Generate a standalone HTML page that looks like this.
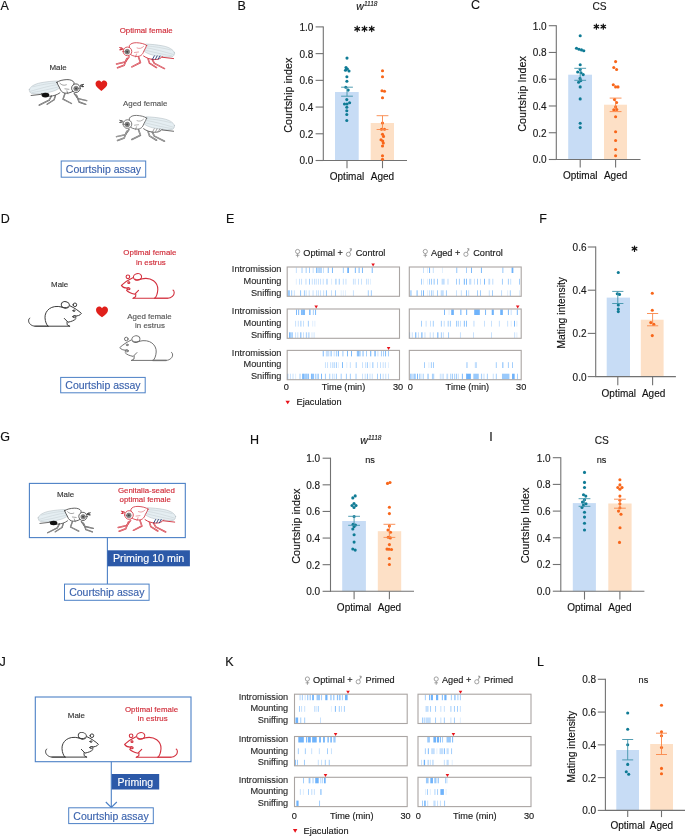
<!DOCTYPE html>
<html><head><meta charset="utf-8"><title>Figure</title>
<style>html,body{margin:0;padding:0;background:#fff;}body{width:685px;height:836px;overflow:hidden;font-family:"Liberation Sans", sans-serif;}svg{display:block;will-change:transform;}</style>
</head><body>
<svg width="685" height="836" viewBox="0 0 685 836" font-family='"Liberation Sans", sans-serif'>
<rect width="685" height="836" fill="#fff"/>
<text x="0.6" y="9.6" font-size="12.5" text-anchor="start" fill="#111" stroke="#111" stroke-width="0.14">A</text>
<text x="237.6" y="9.6" font-size="12.5" text-anchor="start" fill="#111" stroke="#111" stroke-width="0.14">B</text>
<text x="471" y="9.4" font-size="12.5" text-anchor="start" fill="#111" stroke="#111" stroke-width="0.14">C</text>
<text x="0.8" y="222.6" font-size="12.5" text-anchor="start" fill="#111" stroke="#111" stroke-width="0.14">D</text>
<text x="226" y="222.7" font-size="12.5" text-anchor="start" fill="#111" stroke="#111" stroke-width="0.14">E</text>
<text x="539.2" y="222.5" font-size="12.5" text-anchor="start" fill="#111" stroke="#111" stroke-width="0.14">F</text>
<text x="0.2" y="441.3" font-size="12.5" text-anchor="start" fill="#111" stroke="#111" stroke-width="0.14">G</text>
<text x="249.9" y="443.6" font-size="12.5" text-anchor="start" fill="#111" stroke="#111" stroke-width="0.14">H</text>
<text x="489.2" y="440.8" font-size="12.5" text-anchor="start" fill="#111" stroke="#111" stroke-width="0.14">I</text>
<text x="-0.6" y="666" font-size="12.5" text-anchor="start" fill="#111" stroke="#111" stroke-width="0.14">J</text>
<text x="225.2" y="666.2" font-size="12.5" text-anchor="start" fill="#111" stroke="#111" stroke-width="0.14">K</text>
<text x="537" y="666.2" font-size="12.5" text-anchor="start" fill="#111" stroke="#111" stroke-width="0.14">L</text>
<text x="58" y="70.2" font-size="7.95" text-anchor="middle" fill="#333" stroke="#333" stroke-width="0.14">Male</text>
<text x="146.2" y="33.2" font-size="7.9" text-anchor="middle" fill="#d02a37" stroke="#d02a37" stroke-width="0.14">Optimal female</text>
<text x="145.2" y="105.9" font-size="7.9" text-anchor="middle" fill="#555" stroke="#555" stroke-width="0.14">Aged female</text>
<g transform="translate(28.9 78.8) scale(1 1)" fill="none" stroke-linejoin="round" stroke-linecap="round">
<path d="M22.5 17.2L20.3 21.3L10.3 26.4" stroke="#4a4a4a" stroke-width="1.35"/>
<path d="M22.5 17.2L20.3 21.3L10.3 26.4" stroke="#fff" stroke-width="0.4"/>
<path d="M26.5 17L25.2 21L18.2 25.4" stroke="#4a4a4a" stroke-width="1.35"/>
<path d="M26.5 17L25.2 21L18.2 25.4" stroke="#fff" stroke-width="0.4"/>
<path d="M36 15L34.1 20.4L42.6 24.7" stroke="#4a4a4a" stroke-width="1.35"/>
<path d="M36 15L34.1 20.4L42.6 24.7" stroke="#fff" stroke-width="0.4"/>
<path d="M45.4 14.8L49.2 19.9L57.8 21.8" stroke="#4a4a4a" stroke-width="1.35"/>
<path d="M45.4 14.8L49.2 19.9L57.8 21.8" stroke="#fff" stroke-width="0.4"/>
<path d="M47.6 16.4L50.2 23.2L56.8 25.6" stroke="#4a4a4a" stroke-width="1.35"/>
<path d="M47.6 16.4L50.2 23.2L56.8 25.6" stroke="#fff" stroke-width="0.4"/>
<path d="M0.4 10.8C1.5 7.5 6 5.2 11.7 4C17 3 24 2.2 29 2.2L31 9C28 11 26 12 22 13C16 14.5 8 15.5 3 14.8C1.2 14.4 0.2 12.5 0.4 10.8Z" fill="#e5eef2" stroke="#b2bcc1" stroke-width="0.55"/>
<path d="M1.5 12.5C10 10 20 7 30 5.5M4 8C12 6 20 4.5 28 4M3 13.8C12 12.5 22 10 30 8" stroke="#c0c9cd" stroke-width="0.45"/>
<path d="M12.5 14.5C15 18.8 25 18.5 31 14" stroke="#333" stroke-width="0.75"/>
<path d="M2.2 16.7L12.6 15.5" stroke="#333" stroke-width="0.75"/>
<ellipse cx="16.5" cy="16.3" rx="3.9" ry="2.3" fill="#111" stroke="none"/>
<path d="M28 3.5C30 1.8 34 1 38 0.8C41.5 0.7 44 1.8 45 3.5L45.5 11C44 13 41 14.4 37 14.4C34 14.2 32 12.8 30.7 9C29.5 7 28.5 5 28 3.5Z" fill="#fff" stroke="#333" stroke-width="0.8"/>
<path d="M31 4.5C33 6.5 35 7 37.5 6M36 10L40 10.5M38 12L39 15" stroke="#333" stroke-width="0.45"/>
<circle cx="47" cy="9.4" r="4.3" fill="#fff" stroke="#333" stroke-width="0.8"/>
<circle cx="47.2" cy="9.8" r="2.4" fill="#8a8a8a" stroke="#555" stroke-width="0.5"/>
<circle cx="47.2" cy="9.8" r="1.1" fill="#444" stroke="none"/>
<path d="M51.5 6.5L54.7 5.6M51.5 7.3L54.7 7.8M53.2 5.8L53.5 8" stroke="#333" stroke-width="0.9"/>
</g>
<g transform="translate(174.9 41.9) scale(-1.01 1.01)" fill="none" stroke-linejoin="round" stroke-linecap="round">
<path d="M22.5 17.2L20.3 21.3L10.3 26.4" stroke="#d02a37" stroke-width="1.5"/>
<path d="M22.5 17.2L20.3 21.3L10.3 26.4" stroke="#fff" stroke-width="0.4"/>
<path d="M26.5 17L25.2 21L18.2 25.4" stroke="#d02a37" stroke-width="1.5"/>
<path d="M26.5 17L25.2 21L18.2 25.4" stroke="#fff" stroke-width="0.4"/>
<path d="M36 15L34.1 20.4L42.6 24.7" stroke="#d02a37" stroke-width="1.5"/>
<path d="M36 15L34.1 20.4L42.6 24.7" stroke="#fff" stroke-width="0.4"/>
<path d="M45.4 14.8L49.2 19.9L57.8 21.8" stroke="#d02a37" stroke-width="1.5"/>
<path d="M45.4 14.8L49.2 19.9L57.8 21.8" stroke="#fff" stroke-width="0.4"/>
<path d="M47.6 16.4L50.2 23.2L56.8 25.6" stroke="#d02a37" stroke-width="1.5"/>
<path d="M47.6 16.4L50.2 23.2L56.8 25.6" stroke="#fff" stroke-width="0.4"/>
<path d="M0.4 10.8C1.5 7.5 6 5.2 11.7 4C17 3 24 2.2 29 2.2L31 9C28 11 26 12 22 13C16 14.5 8 15.5 3 14.8C1.2 14.4 0.2 12.5 0.4 10.8Z" fill="#e5eef2" stroke="#b2bcc1" stroke-width="0.55"/>
<path d="M1.5 12.5C10 10 20 7 30 5.5M4 8C12 6 20 4.5 28 4M3 13.8C12 12.5 22 10 30 8" stroke="#c0c9cd" stroke-width="0.45"/>
<path d="M12.5 14.5C15 18.8 25 18.5 31 14" stroke="#d02a37" stroke-width="0.9"/>
<path d="M1.3 16.5L12.6 15.2" stroke="#d02a37" stroke-width="0.9"/>
<path d="M14.8 13.9L16.6 17.3" stroke="#2b3f7a" stroke-width="0.9"/>
<path d="M17.6 13.9L19.4 17.3" stroke="#2b3f7a" stroke-width="0.9"/>
<path d="M20.4 13.9L22.2 17.3" stroke="#2b3f7a" stroke-width="0.9"/>
<path d="M28 3.5C30 1.8 34 1 38 0.8C41.5 0.7 44 1.8 45 3.5L45.5 11C44 13 41 14.4 37 14.4C34 14.2 32 12.8 30.7 9C29.5 7 28.5 5 28 3.5Z" fill="#fff" stroke="#d02a37" stroke-width="0.8"/>
<path d="M31 4.5C33 6.5 35 7 37.5 6M36 10L40 10.5M38 12L39 15" stroke="#d02a37" stroke-width="0.45"/>
<circle cx="47" cy="9.4" r="4.3" fill="#fff" stroke="#d02a37" stroke-width="0.8"/>
<circle cx="47.2" cy="9.8" r="2.4" fill="#8a8a8a" stroke="#555" stroke-width="0.5"/>
<circle cx="47.2" cy="9.8" r="1.1" fill="#444" stroke="none"/>
<path d="M51.5 6.5L54.7 5.6M51.5 7.3L54.7 7.8M53.2 5.8L53.5 8" stroke="#d02a37" stroke-width="0.9"/>
</g>
<g transform="translate(174.9 114.6) scale(-1.01 1.01)" fill="none" stroke-linejoin="round" stroke-linecap="round">
<path d="M22.5 17.2L20.3 21.3L10.3 26.4" stroke="#666" stroke-width="1.5"/>
<path d="M22.5 17.2L20.3 21.3L10.3 26.4" stroke="#fff" stroke-width="0.4"/>
<path d="M26.5 17L25.2 21L18.2 25.4" stroke="#666" stroke-width="1.5"/>
<path d="M26.5 17L25.2 21L18.2 25.4" stroke="#fff" stroke-width="0.4"/>
<path d="M36 15L34.1 20.4L42.6 24.7" stroke="#666" stroke-width="1.5"/>
<path d="M36 15L34.1 20.4L42.6 24.7" stroke="#fff" stroke-width="0.4"/>
<path d="M45.4 14.8L49.2 19.9L57.8 21.8" stroke="#666" stroke-width="1.5"/>
<path d="M45.4 14.8L49.2 19.9L57.8 21.8" stroke="#fff" stroke-width="0.4"/>
<path d="M47.6 16.4L50.2 23.2L56.8 25.6" stroke="#666" stroke-width="1.5"/>
<path d="M47.6 16.4L50.2 23.2L56.8 25.6" stroke="#fff" stroke-width="0.4"/>
<path d="M0.4 10.8C1.5 7.5 6 5.2 11.7 4C17 3 24 2.2 29 2.2L31 9C28 11 26 12 22 13C16 14.5 8 15.5 3 14.8C1.2 14.4 0.2 12.5 0.4 10.8Z" fill="#e5eef2" stroke="#b2bcc1" stroke-width="0.55"/>
<path d="M1.5 12.5C10 10 20 7 30 5.5M4 8C12 6 20 4.5 28 4M3 13.8C12 12.5 22 10 30 8" stroke="#c0c9cd" stroke-width="0.45"/>
<path d="M12.5 14.5C15 18.8 25 18.5 31 14" stroke="#5a5a5a" stroke-width="0.9"/>
<path d="M1.3 16.5L12.6 15.2" stroke="#5a5a5a" stroke-width="0.9"/>
<path d="M14.8 13.9L16.6 17.3" stroke="#999" stroke-width="0.9"/>
<path d="M17.6 13.9L19.4 17.3" stroke="#999" stroke-width="0.9"/>
<path d="M20.4 13.9L22.2 17.3" stroke="#999" stroke-width="0.9"/>
<path d="M28 3.5C30 1.8 34 1 38 0.8C41.5 0.7 44 1.8 45 3.5L45.5 11C44 13 41 14.4 37 14.4C34 14.2 32 12.8 30.7 9C29.5 7 28.5 5 28 3.5Z" fill="#fff" stroke="#5a5a5a" stroke-width="0.8"/>
<path d="M31 4.5C33 6.5 35 7 37.5 6M36 10L40 10.5M38 12L39 15" stroke="#5a5a5a" stroke-width="0.45"/>
<circle cx="47" cy="9.4" r="4.3" fill="#fff" stroke="#5a5a5a" stroke-width="0.8"/>
<circle cx="47.2" cy="9.8" r="2.4" fill="#8a8a8a" stroke="#555" stroke-width="0.5"/>
<circle cx="47.2" cy="9.8" r="1.1" fill="#444" stroke="none"/>
<path d="M51.5 6.5L54.7 5.6M51.5 7.3L54.7 7.8M53.2 5.8L53.5 8" stroke="#5a5a5a" stroke-width="0.9"/>
</g>
<path transform="translate(95.5 80.6) scale(0.98)" d="M6 10.6C2.5 8 0 6 0 3.3C0 1.4 1.5 0 3.2 0C4.4 0 5.4 0.6 6 1.6C6.6 0.6 7.6 0 8.8 0C10.5 0 12 1.4 12 3.3C12 6 9.5 8 6 10.6Z" fill="#e0201b"/>
<rect x="61.2" y="161" width="84.5" height="16.2" fill="#fff" stroke="#4c80c6" stroke-width="1.0"/>
<text x="103.45" y="172.5" font-size="10.5" text-anchor="middle" fill="#3a62ad" stroke="#3a62ad" stroke-width="0.14">Courtship assay</text>
<text x="59.7" y="286.8" font-size="7.95" text-anchor="middle" fill="#333" stroke="#333" stroke-width="0.14">Male</text>
<text x="149.9" y="255.4" font-size="7.9" text-anchor="middle" fill="#d02a37" stroke="#d02a37" stroke-width="0.14">Optimal female</text>
<text x="150.9" y="264.6" font-size="7.9" text-anchor="middle" fill="#d02a37" stroke="#d02a37" stroke-width="0.14">in estrus</text>
<text x="149.5" y="318.6" font-size="7.9" text-anchor="middle" fill="#555" stroke="#555" stroke-width="0.14">Aged female</text>
<text x="150" y="327.8" font-size="7.9" text-anchor="middle" fill="#555" stroke="#555" stroke-width="0.14">in estrus</text>
<g transform="translate(201.2 -34.2) scale(-1 1)" fill="none" stroke="#3c3c3c" stroke-width="1" stroke-linecap="round" stroke-linejoin="round">
<path d="M139.5 341.2C150 338.5 156.6 345 156.2 352C155.9 356 154.8 358.8 153.2 360.4"/>
<path d="M131.5 360.4L166 360.4C170 360.2 172.6 357.5 172.6 355C172.6 353.6 172.1 352.6 171.4 352.3"/>
<path d="M166 360.4L153 360.4" stroke-width="1.6" stroke-opacity="0.55"/>
<path d="M131.2 340C127 342 122.5 345 119.8 347.6C121 349.6 124 350.6 127.2 350.1"/>
<ellipse cx="126.8" cy="350.9" rx="1.6" ry="1"/>
<path d="M125 352.6C127 355 130 355.7 133.2 356.4L136.9 352.6"/>
<path d="M134.2 356.2L134 359L131.5 360.4"/>
<ellipse cx="135.9" cy="339.1" rx="4.1" ry="3.3" transform="rotate(-15 135.9 339.1)"/>
<path d="M133.5 341.4C135 342.3 137.5 342 139.5 341.2"/>
<circle cx="126.3" cy="339" r="1.8"/>
<ellipse cx="127.2" cy="344.9" rx="1" ry="0.8"/>
</g>
<g transform="translate(1.6 -62.2)" fill="none" stroke="#d3303e" stroke-width="1.1" stroke-linecap="round" stroke-linejoin="round">
<path d="M139.5 341.2C150 338.5 156.6 345 156.2 352C155.9 356 154.8 358.8 153.2 360.4"/>
<path d="M131.5 360.4L166 360.4C170 360.2 172.6 357.5 172.6 355C172.6 353.6 172.1 352.6 171.4 352.3"/>
<path d="M166 360.4L153 360.4" stroke-width="1.6" stroke-opacity="0.55"/>
<path d="M131.2 340C127 342 122.5 345 119.8 347.6C121 349.6 124 350.6 127.2 350.1"/>
<ellipse cx="126.8" cy="350.9" rx="1.6" ry="1"/>
<path d="M125 352.6C127 355 130 355.7 133.2 356.4L136.9 352.6"/>
<path d="M134.2 356.2L134 359L131.5 360.4"/>
<ellipse cx="135.9" cy="339.1" rx="4.1" ry="3.3" transform="rotate(-15 135.9 339.1)"/>
<path d="M133.5 341.4C135 342.3 137.5 342 139.5 341.2"/>
<circle cx="126.3" cy="339" r="1.8"/>
<ellipse cx="127.2" cy="344.9" rx="1" ry="0.8"/>
</g>
<g transform="" fill="none" stroke="#6a6a6a" stroke-width="0.95" stroke-linecap="round" stroke-linejoin="round">
<path d="M139.5 341.2C150 338.5 156.6 345 156.2 352C155.9 356 154.8 358.8 153.2 360.4"/>
<path d="M131.5 360.4L166 360.4C170 360.2 172.6 357.5 172.6 355C172.6 353.6 172.1 352.6 171.4 352.3"/>
<path d="M166 360.4L153 360.4" stroke-width="1.6" stroke-opacity="0.55"/>
<path d="M131.2 340C127 342 122.5 345 119.8 347.6C121 349.6 124 350.6 127.2 350.1"/>
<ellipse cx="126.8" cy="350.9" rx="1.6" ry="1"/>
<path d="M125 352.6C127 355 130 355.7 133.2 356.4L136.9 352.6"/>
<path d="M134.2 356.2L134 359L131.5 360.4"/>
<ellipse cx="135.9" cy="339.1" rx="4.1" ry="3.3" transform="rotate(-15 135.9 339.1)"/>
<path d="M133.5 341.4C135 342.3 137.5 342 139.5 341.2"/>
<circle cx="126.3" cy="339" r="1.8"/>
<ellipse cx="127.2" cy="344.9" rx="1" ry="0.8"/>
</g>
<path transform="translate(96 306.6) scale(1)" d="M6 10.6C2.5 8 0 6 0 3.3C0 1.4 1.5 0 3.2 0C4.4 0 5.4 0.6 6 1.6C6.6 0.6 7.6 0 8.8 0C10.5 0 12 1.4 12 3.3C12 6 9.5 8 6 10.6Z" fill="#e0201b"/>
<rect x="60.7" y="377.4" width="84.5" height="15.4" fill="#fff" stroke="#4c80c6" stroke-width="1.0"/>
<text x="102.95" y="389" font-size="10.5" text-anchor="middle" fill="#3a62ad" stroke="#3a62ad" stroke-width="0.14">Courtship assay</text>
<rect x="29.4" y="483.4" width="155.9" height="54.2" fill="none" stroke="#4c80c6" stroke-width="1.1"/>
<text x="65.5" y="497.3" font-size="7.95" text-anchor="middle" fill="#333" stroke="#333" stroke-width="0.14">Male</text>
<text x="146.4" y="493.2" font-size="7.9" text-anchor="middle" fill="#d02a37" stroke="#d02a37" stroke-width="0.14">Genitalia-sealed</text>
<text x="145.2" y="502.4" font-size="7.9" text-anchor="middle" fill="#d02a37" stroke="#d02a37" stroke-width="0.14">optimal female</text>
<g transform="translate(37.8 507.4) scale(0.96 0.96)" fill="none" stroke-linejoin="round" stroke-linecap="round">
<path d="M22.5 17.2L20.3 21.3L10.3 26.4" stroke="#4a4a4a" stroke-width="1.35"/>
<path d="M22.5 17.2L20.3 21.3L10.3 26.4" stroke="#fff" stroke-width="0.4"/>
<path d="M26.5 17L25.2 21L18.2 25.4" stroke="#4a4a4a" stroke-width="1.35"/>
<path d="M26.5 17L25.2 21L18.2 25.4" stroke="#fff" stroke-width="0.4"/>
<path d="M36 15L34.1 20.4L42.6 24.7" stroke="#4a4a4a" stroke-width="1.35"/>
<path d="M36 15L34.1 20.4L42.6 24.7" stroke="#fff" stroke-width="0.4"/>
<path d="M45.4 14.8L49.2 19.9L57.8 21.8" stroke="#4a4a4a" stroke-width="1.35"/>
<path d="M45.4 14.8L49.2 19.9L57.8 21.8" stroke="#fff" stroke-width="0.4"/>
<path d="M47.6 16.4L50.2 23.2L56.8 25.6" stroke="#4a4a4a" stroke-width="1.35"/>
<path d="M47.6 16.4L50.2 23.2L56.8 25.6" stroke="#fff" stroke-width="0.4"/>
<path d="M0.4 10.8C1.5 7.5 6 5.2 11.7 4C17 3 24 2.2 29 2.2L31 9C28 11 26 12 22 13C16 14.5 8 15.5 3 14.8C1.2 14.4 0.2 12.5 0.4 10.8Z" fill="#e5eef2" stroke="#b2bcc1" stroke-width="0.55"/>
<path d="M1.5 12.5C10 10 20 7 30 5.5M4 8C12 6 20 4.5 28 4M3 13.8C12 12.5 22 10 30 8" stroke="#c0c9cd" stroke-width="0.45"/>
<path d="M12.5 14.5C15 18.8 25 18.5 31 14" stroke="#333" stroke-width="0.75"/>
<path d="M2.2 16.7L12.6 15.5" stroke="#333" stroke-width="0.75"/>
<ellipse cx="16.5" cy="16.3" rx="3.9" ry="2.3" fill="#111" stroke="none"/>
<path d="M28 3.5C30 1.8 34 1 38 0.8C41.5 0.7 44 1.8 45 3.5L45.5 11C44 13 41 14.4 37 14.4C34 14.2 32 12.8 30.7 9C29.5 7 28.5 5 28 3.5Z" fill="#fff" stroke="#333" stroke-width="0.8"/>
<path d="M31 4.5C33 6.5 35 7 37.5 6M36 10L40 10.5M38 12L39 15" stroke="#333" stroke-width="0.45"/>
<circle cx="47" cy="9.4" r="4.3" fill="#fff" stroke="#333" stroke-width="0.8"/>
<circle cx="47.2" cy="9.8" r="2.4" fill="#8a8a8a" stroke="#555" stroke-width="0.5"/>
<circle cx="47.2" cy="9.8" r="1.1" fill="#444" stroke="none"/>
<path d="M51.5 6.5L54.7 5.6M51.5 7.3L54.7 7.8M53.2 5.8L53.5 8" stroke="#333" stroke-width="0.9"/>
</g>
<g transform="translate(176 505.6) scale(-1 1)" fill="none" stroke-linejoin="round" stroke-linecap="round">
<path d="M22.5 17.2L20.3 21.3L10.3 26.4" stroke="#d02a37" stroke-width="1.5"/>
<path d="M22.5 17.2L20.3 21.3L10.3 26.4" stroke="#fff" stroke-width="0.4"/>
<path d="M26.5 17L25.2 21L18.2 25.4" stroke="#d02a37" stroke-width="1.5"/>
<path d="M26.5 17L25.2 21L18.2 25.4" stroke="#fff" stroke-width="0.4"/>
<path d="M36 15L34.1 20.4L42.6 24.7" stroke="#d02a37" stroke-width="1.5"/>
<path d="M36 15L34.1 20.4L42.6 24.7" stroke="#fff" stroke-width="0.4"/>
<path d="M45.4 14.8L49.2 19.9L57.8 21.8" stroke="#d02a37" stroke-width="1.5"/>
<path d="M45.4 14.8L49.2 19.9L57.8 21.8" stroke="#fff" stroke-width="0.4"/>
<path d="M47.6 16.4L50.2 23.2L56.8 25.6" stroke="#d02a37" stroke-width="1.5"/>
<path d="M47.6 16.4L50.2 23.2L56.8 25.6" stroke="#fff" stroke-width="0.4"/>
<path d="M0.4 10.8C1.5 7.5 6 5.2 11.7 4C17 3 24 2.2 29 2.2L31 9C28 11 26 12 22 13C16 14.5 8 15.5 3 14.8C1.2 14.4 0.2 12.5 0.4 10.8Z" fill="#e5eef2" stroke="#b2bcc1" stroke-width="0.55"/>
<path d="M1.5 12.5C10 10 20 7 30 5.5M4 8C12 6 20 4.5 28 4M3 13.8C12 12.5 22 10 30 8" stroke="#c0c9cd" stroke-width="0.45"/>
<path d="M12.5 14.5C15 18.8 25 18.5 31 14" stroke="#d02a37" stroke-width="0.9"/>
<path d="M1.3 16.5L12.6 15.2" stroke="#d02a37" stroke-width="0.9"/>
<path d="M14.8 13.9L16.6 17.3" stroke="#2b3f7a" stroke-width="0.9"/>
<path d="M17.6 13.9L19.4 17.3" stroke="#2b3f7a" stroke-width="0.9"/>
<path d="M20.4 13.9L22.2 17.3" stroke="#2b3f7a" stroke-width="0.9"/>
<path d="M28 3.5C30 1.8 34 1 38 0.8C41.5 0.7 44 1.8 45 3.5L45.5 11C44 13 41 14.4 37 14.4C34 14.2 32 12.8 30.7 9C29.5 7 28.5 5 28 3.5Z" fill="#fff" stroke="#d02a37" stroke-width="0.8"/>
<path d="M31 4.5C33 6.5 35 7 37.5 6M36 10L40 10.5M38 12L39 15" stroke="#d02a37" stroke-width="0.45"/>
<circle cx="47" cy="9.4" r="4.3" fill="#fff" stroke="#d02a37" stroke-width="0.8"/>
<circle cx="47.2" cy="9.8" r="2.4" fill="#8a8a8a" stroke="#555" stroke-width="0.5"/>
<circle cx="47.2" cy="9.8" r="1.1" fill="#444" stroke="none"/>
<path d="M51.5 6.5L54.7 5.6M51.5 7.3L54.7 7.8M53.2 5.8L53.5 8" stroke="#d02a37" stroke-width="0.9"/>
</g>
<line x1="107.4" y1="537.6" x2="107.4" y2="584" stroke="#4c80c6" stroke-width="1.1"/>
<rect x="107.5" y="550.3" width="82.4" height="16" fill="#2c59a8"/>
<text x="148.6" y="562.3" font-size="10.7" text-anchor="middle" fill="#fff" stroke="#fff" stroke-width="0.14">Priming 10 min</text>
<rect x="64.5" y="584.1" width="84.6" height="16.2" fill="#fff" stroke="#4c80c6" stroke-width="1.0"/>
<text x="106.8" y="596" font-size="10.5" text-anchor="middle" fill="#3a62ad" stroke="#3a62ad" stroke-width="0.14">Courtship assay</text>
<rect x="35.3" y="697.0" width="155.7" height="64.7" fill="none" stroke="#4c80c6" stroke-width="1.1"/>
<text x="76.4" y="717.8" font-size="7.95" text-anchor="middle" fill="#333" stroke="#333" stroke-width="0.14">Male</text>
<text x="151.5" y="712.1" font-size="7.9" text-anchor="middle" fill="#d02a37" stroke="#d02a37" stroke-width="0.14">Optimal female</text>
<text x="152.7" y="721.3" font-size="7.9" text-anchor="middle" fill="#d02a37" stroke="#d02a37" stroke-width="0.14">in estrus</text>
<g transform="translate(218.2 396.7) scale(-1 1)" fill="none" stroke="#3c3c3c" stroke-width="1" stroke-linecap="round" stroke-linejoin="round">
<path d="M139.5 341.2C150 338.5 156.6 345 156.2 352C155.9 356 154.8 358.8 153.2 360.4"/>
<path d="M131.5 360.4L166 360.4C170 360.2 172.6 357.5 172.6 355C172.6 353.6 172.1 352.6 171.4 352.3"/>
<path d="M166 360.4L153 360.4" stroke-width="1.6" stroke-opacity="0.55"/>
<path d="M131.2 340C127 342 122.5 345 119.8 347.6C121 349.6 124 350.6 127.2 350.1"/>
<ellipse cx="126.8" cy="350.9" rx="1.6" ry="1"/>
<path d="M125 352.6C127 355 130 355.7 133.2 356.4L136.9 352.6"/>
<path d="M134.2 356.2L134 359L131.5 360.4"/>
<ellipse cx="135.9" cy="339.1" rx="4.1" ry="3.3" transform="rotate(-15 135.9 339.1)"/>
<path d="M133.5 341.4C135 342.3 137.5 342 139.5 341.2"/>
<circle cx="126.3" cy="339" r="1.8"/>
<ellipse cx="127.2" cy="344.9" rx="1" ry="0.8"/>
</g>
<g transform="translate(4.8 396.8)" fill="none" stroke="#d3303e" stroke-width="1.1" stroke-linecap="round" stroke-linejoin="round">
<path d="M139.5 341.2C150 338.5 156.6 345 156.2 352C155.9 356 154.8 358.8 153.2 360.4"/>
<path d="M131.5 360.4L166 360.4C170 360.2 172.6 357.5 172.6 355C172.6 353.6 172.1 352.6 171.4 352.3"/>
<path d="M166 360.4L153 360.4" stroke-width="1.6" stroke-opacity="0.55"/>
<path d="M131.2 340C127 342 122.5 345 119.8 347.6C121 349.6 124 350.6 127.2 350.1"/>
<ellipse cx="126.8" cy="350.9" rx="1.6" ry="1"/>
<path d="M125 352.6C127 355 130 355.7 133.2 356.4L136.9 352.6"/>
<path d="M134.2 356.2L134 359L131.5 360.4"/>
<ellipse cx="135.9" cy="339.1" rx="4.1" ry="3.3" transform="rotate(-15 135.9 339.1)"/>
<path d="M133.5 341.4C135 342.3 137.5 342 139.5 341.2"/>
<circle cx="126.3" cy="339" r="1.8"/>
<ellipse cx="127.2" cy="344.9" rx="1" ry="0.8"/>
</g>
<path d="M111.3 761.7V807.3M105.8 802L111.3 807.5L116.8 802" stroke="#4c80c6" stroke-width="1.1" fill="none"/>
<rect x="111.7" y="774" width="47.5" height="15.5" fill="#2c59a8"/>
<text x="135.4" y="785.6" font-size="10.5" text-anchor="middle" fill="#fff" stroke="#fff" stroke-width="0.14">Priming</text>
<rect x="68.7" y="807.8" width="84.6" height="15.8" fill="#fff" stroke="#4c80c6" stroke-width="1.0"/>
<text x="111" y="819.6" font-size="10.5" text-anchor="middle" fill="#3a62ad" stroke="#3a62ad" stroke-width="0.14">Courtship assay</text>
<rect x="335" y="92" width="23.7" height="68.5" fill="#c7dcf5"/>
<rect x="370.7" y="123" width="23.3" height="37.5" fill="#fde0c6"/>
<line x1="323.3" y1="26.4" x2="323.3" y2="161" stroke="#727272" stroke-width="1.1"/>
<line x1="322.8" y1="160.5" x2="407" y2="160.5" stroke="#727272" stroke-width="1.1"/>
<line x1="315.6" y1="160.5" x2="323.3" y2="160.5" stroke="#727272" stroke-width="1.1"/>
<text x="313.3" y="164.4" font-size="10" text-anchor="end" fill="#181818" stroke="#181818" stroke-width="0.14">0.0</text>
<line x1="315.6" y1="133.78" x2="323.3" y2="133.78" stroke="#727272" stroke-width="1.1"/>
<text x="313.3" y="137.68" font-size="10" text-anchor="end" fill="#181818" stroke="#181818" stroke-width="0.14">0.2</text>
<line x1="315.6" y1="107.06" x2="323.3" y2="107.06" stroke="#727272" stroke-width="1.1"/>
<text x="313.3" y="110.96" font-size="10" text-anchor="end" fill="#181818" stroke="#181818" stroke-width="0.14">0.4</text>
<line x1="315.6" y1="80.34" x2="323.3" y2="80.34" stroke="#727272" stroke-width="1.1"/>
<text x="313.3" y="84.24" font-size="10" text-anchor="end" fill="#181818" stroke="#181818" stroke-width="0.14">0.6</text>
<line x1="315.6" y1="53.62" x2="323.3" y2="53.62" stroke="#727272" stroke-width="1.1"/>
<text x="313.3" y="57.52" font-size="10" text-anchor="end" fill="#181818" stroke="#181818" stroke-width="0.14">0.8</text>
<line x1="315.6" y1="26.9" x2="323.3" y2="26.9" stroke="#727272" stroke-width="1.1"/>
<text x="313.3" y="30.8" font-size="10" text-anchor="end" fill="#181818" stroke="#181818" stroke-width="0.14">1.0</text>
<line x1="347" y1="160.5" x2="347" y2="168.2" stroke="#727272" stroke-width="1.1"/>
<line x1="382.5" y1="160.5" x2="382.5" y2="168.2" stroke="#727272" stroke-width="1.1"/>
<circle cx="347" cy="58.1" r="1.55" fill="#0f7b95"/>
<circle cx="346" cy="67.6" r="1.55" fill="#0f7b95"/>
<circle cx="347.4" cy="69" r="1.55" fill="#0f7b95"/>
<circle cx="345.5" cy="70.2" r="1.55" fill="#0f7b95"/>
<circle cx="349" cy="71" r="1.55" fill="#0f7b95"/>
<circle cx="346.9" cy="76.7" r="1.55" fill="#0f7b95"/>
<circle cx="346.9" cy="81.3" r="1.55" fill="#0f7b95"/>
<circle cx="345.8" cy="87.2" r="1.55" fill="#0f7b95"/>
<circle cx="348.2" cy="90.1" r="1.55" fill="#0f7b95"/>
<circle cx="346.8" cy="99.6" r="1.55" fill="#0f7b95"/>
<circle cx="349.6" cy="102.8" r="1.55" fill="#0f7b95"/>
<circle cx="344.5" cy="104" r="1.55" fill="#0f7b95"/>
<circle cx="347" cy="104" r="1.55" fill="#0f7b95"/>
<circle cx="346.8" cy="107.2" r="1.55" fill="#0f7b95"/>
<circle cx="346.8" cy="110.7" r="1.55" fill="#0f7b95"/>
<circle cx="346.8" cy="114.5" r="1.55" fill="#0f7b95"/>
<circle cx="346.8" cy="120.5" r="1.55" fill="#0f7b95"/>
<circle cx="382.5" cy="70.7" r="1.55" fill="#f8661a"/>
<circle cx="382.5" cy="76.7" r="1.55" fill="#f8661a"/>
<circle cx="382" cy="90.8" r="1.55" fill="#f8661a"/>
<circle cx="384.5" cy="91.3" r="1.55" fill="#f8661a"/>
<circle cx="382.5" cy="97.8" r="1.55" fill="#f8661a"/>
<circle cx="382.5" cy="123" r="1.55" fill="#f8661a"/>
<circle cx="381.5" cy="129.2" r="1.55" fill="#f8661a"/>
<circle cx="384.5" cy="129.2" r="1.55" fill="#f8661a"/>
<circle cx="382.5" cy="134.2" r="1.55" fill="#f8661a"/>
<circle cx="383.5" cy="136.4" r="1.55" fill="#f8661a"/>
<circle cx="381" cy="139.7" r="1.55" fill="#f8661a"/>
<circle cx="382.7" cy="141" r="1.55" fill="#f8661a"/>
<circle cx="383.3" cy="143.1" r="1.55" fill="#f8661a"/>
<circle cx="382.5" cy="146" r="1.55" fill="#f8661a"/>
<circle cx="382.5" cy="155.8" r="1.55" fill="#f8661a"/>
<circle cx="382.5" cy="159.3" r="1.55" fill="#f8661a"/>
<path d="M341.1 87.2H352.9M341.1 96.2H352.9M347 87.2V96.2" stroke="#3f93aa" stroke-width="0.9" fill="none"/>
<path d="M376.6 115.7H388.4M376.6 129.5H388.4M382.5 115.7V129.5" stroke="#f98748" stroke-width="0.9" fill="none"/>
<text x="347" y="180" font-size="10" text-anchor="middle" fill="#111111" stroke="#111111" stroke-width="0.14">Optimal</text>
<text x="382.5" y="180" font-size="10" text-anchor="middle" fill="#111111" stroke="#111111" stroke-width="0.14">Aged</text>
<text transform="translate(292 95.2) rotate(-90)" font-size="10.8" text-anchor="middle" fill="#111111" stroke="#111111" stroke-width="0.14">Courtship index</text>
<rect x="568.2" y="74.7" width="23.8" height="84.8" fill="#c7dcf5"/>
<rect x="604" y="104.7" width="23" height="54.8" fill="#fde0c6"/>
<line x1="556.3" y1="25.2" x2="556.3" y2="160" stroke="#727272" stroke-width="1.1"/>
<line x1="555.8" y1="159.5" x2="640.5" y2="159.5" stroke="#727272" stroke-width="1.1"/>
<line x1="548.8" y1="159.5" x2="556.3" y2="159.5" stroke="#727272" stroke-width="1.1"/>
<text x="546.6" y="163.4" font-size="10" text-anchor="end" fill="#181818" stroke="#181818" stroke-width="0.14">0.0</text>
<line x1="548.8" y1="132.74" x2="556.3" y2="132.74" stroke="#727272" stroke-width="1.1"/>
<text x="546.6" y="136.64" font-size="10" text-anchor="end" fill="#181818" stroke="#181818" stroke-width="0.14">0.2</text>
<line x1="548.8" y1="105.98" x2="556.3" y2="105.98" stroke="#727272" stroke-width="1.1"/>
<text x="546.6" y="109.88" font-size="10" text-anchor="end" fill="#181818" stroke="#181818" stroke-width="0.14">0.4</text>
<line x1="548.8" y1="79.22" x2="556.3" y2="79.22" stroke="#727272" stroke-width="1.1"/>
<text x="546.6" y="83.12" font-size="10" text-anchor="end" fill="#181818" stroke="#181818" stroke-width="0.14">0.6</text>
<line x1="548.8" y1="52.46" x2="556.3" y2="52.46" stroke="#727272" stroke-width="1.1"/>
<text x="546.6" y="56.36" font-size="10" text-anchor="end" fill="#181818" stroke="#181818" stroke-width="0.14">0.8</text>
<line x1="548.8" y1="25.7" x2="556.3" y2="25.7" stroke="#727272" stroke-width="1.1"/>
<text x="546.6" y="29.6" font-size="10" text-anchor="end" fill="#181818" stroke="#181818" stroke-width="0.14">1.0</text>
<line x1="580.2" y1="159.5" x2="580.2" y2="167.5" stroke="#727272" stroke-width="1.1"/>
<line x1="615.6" y1="159.5" x2="615.6" y2="167.5" stroke="#727272" stroke-width="1.1"/>
<circle cx="580.2" cy="35.8" r="1.55" fill="#0f7b95"/>
<circle cx="576.5" cy="48.2" r="1.55" fill="#0f7b95"/>
<circle cx="579" cy="49.3" r="1.55" fill="#0f7b95"/>
<circle cx="581.5" cy="49.9" r="1.55" fill="#0f7b95"/>
<circle cx="583.8" cy="50.8" r="1.55" fill="#0f7b95"/>
<circle cx="580.2" cy="64.7" r="1.55" fill="#0f7b95"/>
<circle cx="580.2" cy="69.6" r="1.55" fill="#0f7b95"/>
<circle cx="577.7" cy="72" r="1.55" fill="#0f7b95"/>
<circle cx="581" cy="72.8" r="1.55" fill="#0f7b95"/>
<circle cx="583.2" cy="74.6" r="1.55" fill="#0f7b95"/>
<circle cx="580" cy="78.4" r="1.55" fill="#0f7b95"/>
<circle cx="580.8" cy="80.6" r="1.55" fill="#0f7b95"/>
<circle cx="578.6" cy="82.2" r="1.55" fill="#0f7b95"/>
<circle cx="580.2" cy="86.9" r="1.55" fill="#0f7b95"/>
<circle cx="580.2" cy="98.9" r="1.55" fill="#0f7b95"/>
<circle cx="580.2" cy="123.2" r="1.55" fill="#0f7b95"/>
<circle cx="580.2" cy="127.6" r="1.55" fill="#0f7b95"/>
<circle cx="615.6" cy="61.6" r="1.55" fill="#f8661a"/>
<circle cx="613.8" cy="67.5" r="1.55" fill="#f8661a"/>
<circle cx="616.6" cy="69.5" r="1.55" fill="#f8661a"/>
<circle cx="613.3" cy="84.8" r="1.55" fill="#f8661a"/>
<circle cx="615.6" cy="86.9" r="1.55" fill="#f8661a"/>
<circle cx="618" cy="86.9" r="1.55" fill="#f8661a"/>
<circle cx="614.5" cy="99.6" r="1.55" fill="#f8661a"/>
<circle cx="616.6" cy="102.5" r="1.55" fill="#f8661a"/>
<circle cx="615.6" cy="106.9" r="1.55" fill="#f8661a"/>
<circle cx="613.8" cy="109.8" r="1.55" fill="#f8661a"/>
<circle cx="616.8" cy="109.5" r="1.55" fill="#f8661a"/>
<circle cx="615.6" cy="116.7" r="1.55" fill="#f8661a"/>
<circle cx="615.6" cy="131.7" r="1.55" fill="#f8661a"/>
<circle cx="615.6" cy="140.5" r="1.55" fill="#f8661a"/>
<circle cx="615.6" cy="149.5" r="1.55" fill="#f8661a"/>
<circle cx="615.6" cy="155.7" r="1.55" fill="#f8661a"/>
<path d="M574.3 68.3H586.1M574.3 80.3H586.1M580.2 68.3V80.3" stroke="#3f93aa" stroke-width="0.9" fill="none"/>
<path d="M609.7 98.1H621.5M609.7 111.6H621.5M615.6 98.1V111.6" stroke="#f98748" stroke-width="0.9" fill="none"/>
<text x="580.2" y="179.1" font-size="10" text-anchor="middle" fill="#111111" stroke="#111111" stroke-width="0.14">Optimal</text>
<text x="615.6" y="179.1" font-size="10" text-anchor="middle" fill="#111111" stroke="#111111" stroke-width="0.14">Aged</text>
<text transform="translate(525.6 94) rotate(-90)" font-size="10.8" text-anchor="middle" fill="#111111" stroke="#111111" stroke-width="0.14">Courtship Index</text>
<rect x="606.7" y="297.6" width="23.3" height="79" fill="#c7dcf5"/>
<rect x="640.8" y="319.7" width="22.8" height="56.9" fill="#fde0c6"/>
<line x1="595.7" y1="246.5" x2="595.7" y2="377.1" stroke="#727272" stroke-width="1.1"/>
<line x1="595.2" y1="376.6" x2="675.9" y2="376.6" stroke="#727272" stroke-width="1.1"/>
<line x1="587.8" y1="376.6" x2="595.7" y2="376.6" stroke="#727272" stroke-width="1.1"/>
<text x="586.5" y="380.5" font-size="10" text-anchor="end" fill="#181818" stroke="#181818" stroke-width="0.14">0.0</text>
<line x1="587.8" y1="333.4" x2="595.7" y2="333.4" stroke="#727272" stroke-width="1.1"/>
<text x="586.5" y="337.3" font-size="10" text-anchor="end" fill="#181818" stroke="#181818" stroke-width="0.14">0.2</text>
<line x1="587.8" y1="290.2" x2="595.7" y2="290.2" stroke="#727272" stroke-width="1.1"/>
<text x="586.5" y="294.1" font-size="10" text-anchor="end" fill="#181818" stroke="#181818" stroke-width="0.14">0.4</text>
<line x1="587.8" y1="247" x2="595.7" y2="247" stroke="#727272" stroke-width="1.1"/>
<text x="586.5" y="250.9" font-size="10" text-anchor="end" fill="#181818" stroke="#181818" stroke-width="0.14">0.6</text>
<line x1="617.8" y1="376.6" x2="617.8" y2="385.2" stroke="#727272" stroke-width="1.1"/>
<line x1="652.6" y1="376.6" x2="652.6" y2="385.2" stroke="#727272" stroke-width="1.1"/>
<circle cx="618.3" cy="272.5" r="1.55" fill="#0f7b95"/>
<circle cx="617.3" cy="293.7" r="1.55" fill="#0f7b95"/>
<circle cx="619.5" cy="294.4" r="1.55" fill="#0f7b95"/>
<circle cx="618.3" cy="305" r="1.55" fill="#0f7b95"/>
<circle cx="618.3" cy="309.1" r="1.55" fill="#0f7b95"/>
<circle cx="618.3" cy="311.6" r="1.55" fill="#0f7b95"/>
<circle cx="652.3" cy="293.2" r="1.55" fill="#f8661a"/>
<circle cx="652.3" cy="310.3" r="1.55" fill="#f8661a"/>
<circle cx="650.8" cy="322.6" r="1.55" fill="#f8661a"/>
<circle cx="653.8" cy="324.3" r="1.55" fill="#f8661a"/>
<circle cx="652.3" cy="335.6" r="1.55" fill="#f8661a"/>
<path d="M612.2 291.4H623.4M612.2 303.5H623.4M617.8 291.4V303.5" stroke="#3f93aa" stroke-width="0.9" fill="none"/>
<path d="M647 313.5H658.2M647 325.8H658.2M652.6 313.5V325.8" stroke="#f98748" stroke-width="0.9" fill="none"/>
<text x="618.8" y="397" font-size="10" text-anchor="middle" fill="#111111" stroke="#111111" stroke-width="0.14">Optimal</text>
<text x="653.6" y="397" font-size="10" text-anchor="middle" fill="#111111" stroke="#111111" stroke-width="0.14">Aged</text>
<text transform="translate(564.9 312.8) rotate(-90)" font-size="10.3" text-anchor="middle" fill="#111111" stroke="#111111" stroke-width="0.14">Mating intensity</text>
<rect x="342.2" y="521" width="23.7" height="70.3" fill="#c7dcf5"/>
<rect x="377.8" y="531.2" width="23.4" height="60.1" fill="#fde0c6"/>
<line x1="330.5" y1="457.7" x2="330.5" y2="591.8" stroke="#727272" stroke-width="1.1"/>
<line x1="330" y1="591.3" x2="414" y2="591.3" stroke="#727272" stroke-width="1.1"/>
<line x1="322.6" y1="591.3" x2="330.5" y2="591.3" stroke="#727272" stroke-width="1.1"/>
<text x="320.1" y="595.2" font-size="10" text-anchor="end" fill="#181818" stroke="#181818" stroke-width="0.14">0.0</text>
<line x1="322.6" y1="564.68" x2="330.5" y2="564.68" stroke="#727272" stroke-width="1.1"/>
<text x="320.1" y="568.58" font-size="10" text-anchor="end" fill="#181818" stroke="#181818" stroke-width="0.14">0.2</text>
<line x1="322.6" y1="538.06" x2="330.5" y2="538.06" stroke="#727272" stroke-width="1.1"/>
<text x="320.1" y="541.96" font-size="10" text-anchor="end" fill="#181818" stroke="#181818" stroke-width="0.14">0.4</text>
<line x1="322.6" y1="511.44" x2="330.5" y2="511.44" stroke="#727272" stroke-width="1.1"/>
<text x="320.1" y="515.34" font-size="10" text-anchor="end" fill="#181818" stroke="#181818" stroke-width="0.14">0.6</text>
<line x1="322.6" y1="484.82" x2="330.5" y2="484.82" stroke="#727272" stroke-width="1.1"/>
<text x="320.1" y="488.72" font-size="10" text-anchor="end" fill="#181818" stroke="#181818" stroke-width="0.14">0.8</text>
<line x1="322.6" y1="458.2" x2="330.5" y2="458.2" stroke="#727272" stroke-width="1.1"/>
<text x="320.1" y="462.1" font-size="10" text-anchor="end" fill="#181818" stroke="#181818" stroke-width="0.14">1.0</text>
<line x1="354.1" y1="591.3" x2="354.1" y2="599.2" stroke="#727272" stroke-width="1.1"/>
<line x1="389.4" y1="591.3" x2="389.4" y2="599.2" stroke="#727272" stroke-width="1.1"/>
<circle cx="352.8" cy="497.9" r="1.55" fill="#0f7b95"/>
<circle cx="355.2" cy="495.9" r="1.55" fill="#0f7b95"/>
<circle cx="352" cy="505.5" r="1.55" fill="#0f7b95"/>
<circle cx="354" cy="503.5" r="1.55" fill="#0f7b95"/>
<circle cx="356" cy="505.5" r="1.55" fill="#0f7b95"/>
<circle cx="354" cy="507.5" r="1.55" fill="#0f7b95"/>
<circle cx="354.1" cy="516.5" r="1.55" fill="#0f7b95"/>
<circle cx="353.1" cy="524.2" r="1.55" fill="#0f7b95"/>
<circle cx="355.5" cy="525" r="1.55" fill="#0f7b95"/>
<circle cx="354.1" cy="526.6" r="1.55" fill="#0f7b95"/>
<circle cx="352.8" cy="529" r="1.55" fill="#0f7b95"/>
<circle cx="354.1" cy="534.8" r="1.55" fill="#0f7b95"/>
<circle cx="354.1" cy="542.1" r="1.55" fill="#0f7b95"/>
<circle cx="352.8" cy="549" r="1.55" fill="#0f7b95"/>
<circle cx="355.2" cy="550.1" r="1.55" fill="#0f7b95"/>
<circle cx="387.5" cy="483.4" r="1.55" fill="#f8661a"/>
<circle cx="390" cy="482.5" r="1.55" fill="#f8661a"/>
<circle cx="389.4" cy="507.2" r="1.55" fill="#f8661a"/>
<circle cx="389.4" cy="513.6" r="1.55" fill="#f8661a"/>
<circle cx="389.4" cy="526.1" r="1.55" fill="#f8661a"/>
<circle cx="388" cy="530" r="1.55" fill="#f8661a"/>
<circle cx="390.5" cy="532.3" r="1.55" fill="#f8661a"/>
<circle cx="388.2" cy="537.3" r="1.55" fill="#f8661a"/>
<circle cx="390.3" cy="537.9" r="1.55" fill="#f8661a"/>
<circle cx="389.4" cy="544.6" r="1.55" fill="#f8661a"/>
<circle cx="387" cy="549.1" r="1.55" fill="#f8661a"/>
<circle cx="389" cy="549.3" r="1.55" fill="#f8661a"/>
<circle cx="391.5" cy="549.5" r="1.55" fill="#f8661a"/>
<circle cx="389.4" cy="558.5" r="1.55" fill="#f8661a"/>
<circle cx="389.4" cy="564.5" r="1.55" fill="#f8661a"/>
<path d="M348.2 516.3H360M348.2 525.3H360M354.1 516.3V525.3" stroke="#3f93aa" stroke-width="0.9" fill="none"/>
<path d="M383.5 524.3H395.3M383.5 537.4H395.3M389.4 524.3V537.4" stroke="#f98748" stroke-width="0.9" fill="none"/>
<text x="354.1" y="610.9" font-size="10" text-anchor="middle" fill="#111111" stroke="#111111" stroke-width="0.14">Optimal</text>
<text x="389.4" y="610.9" font-size="10" text-anchor="middle" fill="#111111" stroke="#111111" stroke-width="0.14">Aged</text>
<text transform="translate(299.5 526.2) rotate(-90)" font-size="10.8" text-anchor="middle" fill="#111111" stroke="#111111" stroke-width="0.14">Courtship index</text>
<rect x="572.8" y="503.1" width="23.1" height="88.1" fill="#c7dcf5"/>
<rect x="608.3" y="503.5" width="23.3" height="87.7" fill="#fde0c6"/>
<line x1="560.8" y1="457.2" x2="560.8" y2="591.7" stroke="#727272" stroke-width="1.1"/>
<line x1="560.3" y1="591.2" x2="644.4" y2="591.2" stroke="#727272" stroke-width="1.1"/>
<line x1="552.8" y1="591.2" x2="560.8" y2="591.2" stroke="#727272" stroke-width="1.1"/>
<text x="550.7" y="595.1" font-size="10" text-anchor="end" fill="#181818" stroke="#181818" stroke-width="0.14">0.0</text>
<line x1="552.8" y1="564.5" x2="560.8" y2="564.5" stroke="#727272" stroke-width="1.1"/>
<text x="550.7" y="568.4" font-size="10" text-anchor="end" fill="#181818" stroke="#181818" stroke-width="0.14">0.2</text>
<line x1="552.8" y1="537.8" x2="560.8" y2="537.8" stroke="#727272" stroke-width="1.1"/>
<text x="550.7" y="541.7" font-size="10" text-anchor="end" fill="#181818" stroke="#181818" stroke-width="0.14">0.4</text>
<line x1="552.8" y1="511.1" x2="560.8" y2="511.1" stroke="#727272" stroke-width="1.1"/>
<text x="550.7" y="515" font-size="10" text-anchor="end" fill="#181818" stroke="#181818" stroke-width="0.14">0.6</text>
<line x1="552.8" y1="484.4" x2="560.8" y2="484.4" stroke="#727272" stroke-width="1.1"/>
<text x="550.7" y="488.3" font-size="10" text-anchor="end" fill="#181818" stroke="#181818" stroke-width="0.14">0.8</text>
<line x1="552.8" y1="457.7" x2="560.8" y2="457.7" stroke="#727272" stroke-width="1.1"/>
<text x="550.7" y="461.6" font-size="10" text-anchor="end" fill="#181818" stroke="#181818" stroke-width="0.14">1.0</text>
<line x1="584.5" y1="591.2" x2="584.5" y2="599.6" stroke="#727272" stroke-width="1.1"/>
<line x1="619.9" y1="591.2" x2="619.9" y2="599.6" stroke="#727272" stroke-width="1.1"/>
<circle cx="584.5" cy="472.4" r="1.55" fill="#0f7b95"/>
<circle cx="584.5" cy="482.4" r="1.55" fill="#0f7b95"/>
<circle cx="584.5" cy="487.5" r="1.55" fill="#0f7b95"/>
<circle cx="583.5" cy="494.8" r="1.55" fill="#0f7b95"/>
<circle cx="585.8" cy="496.1" r="1.55" fill="#0f7b95"/>
<circle cx="584.5" cy="499.7" r="1.55" fill="#0f7b95"/>
<circle cx="582.5" cy="502.1" r="1.55" fill="#0f7b95"/>
<circle cx="586" cy="503.8" r="1.55" fill="#0f7b95"/>
<circle cx="583.5" cy="505" r="1.55" fill="#0f7b95"/>
<circle cx="582" cy="507.5" r="1.55" fill="#0f7b95"/>
<circle cx="584.5" cy="512.3" r="1.55" fill="#0f7b95"/>
<circle cx="584.5" cy="517.1" r="1.55" fill="#0f7b95"/>
<circle cx="584.5" cy="523.2" r="1.55" fill="#0f7b95"/>
<circle cx="584.5" cy="530" r="1.55" fill="#0f7b95"/>
<circle cx="619.9" cy="479.7" r="1.55" fill="#f8661a"/>
<circle cx="619.9" cy="484.9" r="1.55" fill="#f8661a"/>
<circle cx="617.8" cy="487.5" r="1.55" fill="#f8661a"/>
<circle cx="622" cy="487.5" r="1.55" fill="#f8661a"/>
<circle cx="619.9" cy="489.2" r="1.55" fill="#f8661a"/>
<circle cx="619.9" cy="496.1" r="1.55" fill="#f8661a"/>
<circle cx="619.9" cy="500.2" r="1.55" fill="#f8661a"/>
<circle cx="619.9" cy="503.8" r="1.55" fill="#f8661a"/>
<circle cx="619.9" cy="507.9" r="1.55" fill="#f8661a"/>
<circle cx="618.5" cy="511.1" r="1.55" fill="#f8661a"/>
<circle cx="621" cy="514.3" r="1.55" fill="#f8661a"/>
<circle cx="620" cy="527.7" r="1.55" fill="#f8661a"/>
<circle cx="619.5" cy="542.4" r="1.55" fill="#f8661a"/>
<path d="M578.6 498.7H590.4M578.6 506.3H590.4M584.5 498.7V506.3" stroke="#3f93aa" stroke-width="0.9" fill="none"/>
<path d="M614 499.2H625.8M614 508.2H625.8M619.9 499.2V508.2" stroke="#f98748" stroke-width="0.9" fill="none"/>
<text x="584.5" y="611" font-size="10" text-anchor="middle" fill="#111111" stroke="#111111" stroke-width="0.14">Optimal</text>
<text x="619.9" y="611" font-size="10" text-anchor="middle" fill="#111111" stroke="#111111" stroke-width="0.14">Aged</text>
<text transform="translate(529.4 525.5) rotate(-90)" font-size="10.8" text-anchor="middle" fill="#111111" stroke="#111111" stroke-width="0.14">Courtship Index</text>
<rect x="616.3" y="750" width="22.7" height="60.4" fill="#c7dcf5"/>
<rect x="650.2" y="744" width="22.8" height="66.4" fill="#fde0c6"/>
<line x1="605.4" y1="678.78" x2="605.4" y2="810.9" stroke="#727272" stroke-width="1.1"/>
<line x1="604.9" y1="810.4" x2="685" y2="810.4" stroke="#727272" stroke-width="1.1"/>
<line x1="597.8" y1="810.4" x2="605.4" y2="810.4" stroke="#727272" stroke-width="1.1"/>
<text x="596.1" y="814.3" font-size="10" text-anchor="end" fill="#181818" stroke="#181818" stroke-width="0.14">0.0</text>
<line x1="597.8" y1="777.62" x2="605.4" y2="777.62" stroke="#727272" stroke-width="1.1"/>
<text x="596.1" y="781.52" font-size="10" text-anchor="end" fill="#181818" stroke="#181818" stroke-width="0.14">0.2</text>
<line x1="597.8" y1="744.84" x2="605.4" y2="744.84" stroke="#727272" stroke-width="1.1"/>
<text x="596.1" y="748.74" font-size="10" text-anchor="end" fill="#181818" stroke="#181818" stroke-width="0.14">0.4</text>
<line x1="597.8" y1="712.06" x2="605.4" y2="712.06" stroke="#727272" stroke-width="1.1"/>
<text x="596.1" y="715.96" font-size="10" text-anchor="end" fill="#181818" stroke="#181818" stroke-width="0.14">0.6</text>
<line x1="597.8" y1="679.28" x2="605.4" y2="679.28" stroke="#727272" stroke-width="1.1"/>
<text x="596.1" y="683.18" font-size="10" text-anchor="end" fill="#181818" stroke="#181818" stroke-width="0.14">0.8</text>
<line x1="627.7" y1="810.4" x2="627.7" y2="817.1" stroke="#727272" stroke-width="1.1"/>
<line x1="661.5" y1="810.4" x2="661.5" y2="817.1" stroke="#727272" stroke-width="1.1"/>
<circle cx="627.7" cy="713" r="1.55" fill="#0f7b95"/>
<circle cx="627.7" cy="729.3" r="1.55" fill="#0f7b95"/>
<circle cx="627.7" cy="744.7" r="1.55" fill="#0f7b95"/>
<circle cx="627.7" cy="764.4" r="1.55" fill="#0f7b95"/>
<circle cx="626.3" cy="771.7" r="1.55" fill="#0f7b95"/>
<circle cx="628.7" cy="774.3" r="1.55" fill="#0f7b95"/>
<circle cx="661.5" cy="705.2" r="1.55" fill="#f8661a"/>
<circle cx="661.5" cy="731.8" r="1.55" fill="#f8661a"/>
<circle cx="661.5" cy="735.8" r="1.55" fill="#f8661a"/>
<circle cx="661.5" cy="747.6" r="1.55" fill="#f8661a"/>
<circle cx="661.5" cy="768.4" r="1.55" fill="#f8661a"/>
<circle cx="661.5" cy="773.7" r="1.55" fill="#f8661a"/>
<path d="M622.2 739.5H633.2M622.2 759.9H633.2M627.7 739.5V759.9" stroke="#3f93aa" stroke-width="0.9" fill="none"/>
<path d="M656 733.2H667M656 754.5H667M661.5 733.2V754.5" stroke="#f98748" stroke-width="0.9" fill="none"/>
<text x="627.7" y="828.5" font-size="10" text-anchor="middle" fill="#111111" stroke="#111111" stroke-width="0.14">Optimal</text>
<text x="661.5" y="828.5" font-size="10" text-anchor="middle" fill="#111111" stroke="#111111" stroke-width="0.14">Aged</text>
<text transform="translate(574.5 746.7) rotate(-90)" font-size="10.3" text-anchor="middle" fill="#111111" stroke="#111111" stroke-width="0.14">Mating intensity</text>
<text x="356.3" y="9.6" font-size="10.5" text-anchor="start" fill="#181818" stroke="#181818" stroke-width="0.14" font-style="italic">w<tspan font-size="6.5" dy="-3.6">1118</tspan></text>
<line x1="357.2" y1="26.1" x2="357.2" y2="31.5" stroke="#111" stroke-width="1.25" stroke-linecap="round"/>
<line x1="354.86" y1="27.45" x2="359.54" y2="30.15" stroke="#111" stroke-width="1.25" stroke-linecap="round"/>
<line x1="354.86" y1="30.15" x2="359.54" y2="27.45" stroke="#111" stroke-width="1.25" stroke-linecap="round"/>
<line x1="364.5" y1="26.1" x2="364.5" y2="31.5" stroke="#111" stroke-width="1.25" stroke-linecap="round"/>
<line x1="362.16" y1="27.45" x2="366.84" y2="30.15" stroke="#111" stroke-width="1.25" stroke-linecap="round"/>
<line x1="362.16" y1="30.15" x2="366.84" y2="27.45" stroke="#111" stroke-width="1.25" stroke-linecap="round"/>
<line x1="371.7" y1="26.1" x2="371.7" y2="31.5" stroke="#111" stroke-width="1.25" stroke-linecap="round"/>
<line x1="369.36" y1="27.45" x2="374.04" y2="30.15" stroke="#111" stroke-width="1.25" stroke-linecap="round"/>
<line x1="369.36" y1="30.15" x2="374.04" y2="27.45" stroke="#111" stroke-width="1.25" stroke-linecap="round"/>
<text x="599.5" y="9.9" font-size="10.2" text-anchor="middle" fill="#181818" stroke="#181818" stroke-width="0.14">CS</text>
<line x1="596.4" y1="24" x2="596.4" y2="29.2" stroke="#111" stroke-width="1.25" stroke-linecap="round"/>
<line x1="594.15" y1="25.3" x2="598.65" y2="27.9" stroke="#111" stroke-width="1.25" stroke-linecap="round"/>
<line x1="594.15" y1="27.9" x2="598.65" y2="25.3" stroke="#111" stroke-width="1.25" stroke-linecap="round"/>
<line x1="603.3" y1="24" x2="603.3" y2="29.2" stroke="#111" stroke-width="1.25" stroke-linecap="round"/>
<line x1="601.05" y1="25.3" x2="605.55" y2="27.9" stroke="#111" stroke-width="1.25" stroke-linecap="round"/>
<line x1="601.05" y1="27.9" x2="605.55" y2="25.3" stroke="#111" stroke-width="1.25" stroke-linecap="round"/>
<line x1="634.5" y1="246" x2="634.5" y2="251.4" stroke="#111" stroke-width="1.25" stroke-linecap="round"/>
<line x1="632.16" y1="247.35" x2="636.84" y2="250.05" stroke="#111" stroke-width="1.25" stroke-linecap="round"/>
<line x1="632.16" y1="250.05" x2="636.84" y2="247.35" stroke="#111" stroke-width="1.25" stroke-linecap="round"/>
<text x="360.3" y="444" font-size="10.5" text-anchor="start" fill="#181818" stroke="#181818" stroke-width="0.14" font-style="italic">w<tspan font-size="6.5" dy="-3.6">1118</tspan></text>
<text x="370.1" y="463" font-size="9.2" text-anchor="middle" fill="#181818" stroke="#181818" stroke-width="0.14">ns</text>
<text x="601.8" y="444" font-size="10.2" text-anchor="middle" fill="#181818" stroke="#181818" stroke-width="0.14">CS</text>
<text x="601.6" y="463.1" font-size="9.2" text-anchor="middle" fill="#181818" stroke="#181818" stroke-width="0.14">ns</text>
<text x="643.4" y="682.9" font-size="9.2" text-anchor="middle" fill="#181818" stroke="#181818" stroke-width="0.14">ns</text>
<g fill="none" stroke="#8a8a8a" stroke-width="0.8"><circle cx="297.6" cy="251.5" r="2.1"/><path d="M297.6 253.6V257.3M295.8 255.3H299.4"/></g>
<text x="303.3" y="255.8" font-size="9.2" text-anchor="start" fill="#181818" stroke="#181818" stroke-width="0.14">Optimal +</text>
<g fill="none" stroke="#8a8a8a" stroke-width="0.8"><circle cx="348.42" cy="254.3" r="2.1"/><path d="M349.62 252.6L351.32 248.7M349.62 248.7H351.32V250.7"/></g>
<text x="355.72" y="255.8" font-size="9.2" text-anchor="start" fill="#181818" stroke="#181818" stroke-width="0.14">Control</text>
<g fill="none" stroke="#8a8a8a" stroke-width="0.8"><circle cx="425.3" cy="251.5" r="2.1"/><path d="M425.3 253.6V257.3M423.5 255.3H427.1"/></g>
<text x="431" y="255.8" font-size="9.2" text-anchor="start" fill="#181818" stroke="#181818" stroke-width="0.14">Aged +</text>
<g fill="none" stroke="#8a8a8a" stroke-width="0.8"><circle cx="465.91" cy="254.3" r="2.1"/><path d="M467.11 252.6L468.81 248.7M467.11 248.7H468.81V250.7"/></g>
<text x="473.21" y="255.8" font-size="9.2" text-anchor="start" fill="#181818" stroke="#181818" stroke-width="0.14">Control</text>
<text x="281.4" y="272.4" font-size="9.2" text-anchor="end" fill="#2a2a2a" stroke="#2a2a2a" stroke-width="0.14">Intromission</text>
<text x="281.4" y="284" font-size="9.2" text-anchor="end" fill="#2a2a2a" stroke="#2a2a2a" stroke-width="0.14">Mounting</text>
<text x="281.4" y="295.8" font-size="9.2" text-anchor="end" fill="#2a2a2a" stroke="#2a2a2a" stroke-width="0.14">Sniffing</text>
<text x="281.4" y="314.4" font-size="9.2" text-anchor="end" fill="#2a2a2a" stroke="#2a2a2a" stroke-width="0.14">Intromission</text>
<text x="281.4" y="326" font-size="9.2" text-anchor="end" fill="#2a2a2a" stroke="#2a2a2a" stroke-width="0.14">Mounting</text>
<text x="281.4" y="337.8" font-size="9.2" text-anchor="end" fill="#2a2a2a" stroke="#2a2a2a" stroke-width="0.14">Sniffing</text>
<text x="281.4" y="355.8" font-size="9.2" text-anchor="end" fill="#2a2a2a" stroke="#2a2a2a" stroke-width="0.14">Intromission</text>
<text x="281.4" y="367.4" font-size="9.2" text-anchor="end" fill="#2a2a2a" stroke="#2a2a2a" stroke-width="0.14">Mounting</text>
<text x="281.4" y="379.2" font-size="9.2" text-anchor="end" fill="#2a2a2a" stroke="#2a2a2a" stroke-width="0.14">Sniffing</text>
<rect x="295.88" y="267.4" width="0.9" height="5.6" fill="#6fb3fb" fill-opacity="0.42"/>
<rect x="301.57" y="267.4" width="0.9" height="5.6" fill="#6fb3fb" fill-opacity="0.7"/>
<rect x="305.69" y="267.4" width="0.9" height="5.6" fill="#6fb3fb" fill-opacity="0.7"/>
<rect x="309.02" y="267.4" width="0.9" height="5.6" fill="#6fb3fb" fill-opacity="0.7"/>
<rect x="312.7" y="267.4" width="0.9" height="5.6" fill="#6fb3fb" fill-opacity="0.42"/>
<rect x="316.2" y="267.4" width="0.9" height="5.6" fill="#6fb3fb" fill-opacity="1.0"/>
<rect x="317.51" y="267.4" width="0.9" height="5.6" fill="#6fb3fb" fill-opacity="0.7"/>
<rect x="318.65" y="267.4" width="0.9" height="5.6" fill="#6fb3fb" fill-opacity="0.7"/>
<rect x="319.7" y="267.4" width="0.9" height="5.6" fill="#6fb3fb" fill-opacity="0.7"/>
<rect x="320.84" y="267.4" width="0.9" height="5.6" fill="#6fb3fb" fill-opacity="0.7"/>
<rect x="323.03" y="267.4" width="0.9" height="5.6" fill="#6fb3fb" fill-opacity="0.42"/>
<rect x="327.76" y="267.4" width="0.9" height="5.6" fill="#6fb3fb" fill-opacity="1.0"/>
<rect x="331.96" y="267.4" width="0.9" height="5.6" fill="#6fb3fb" fill-opacity="1.0"/>
<rect x="342.86" y="267.4" width="0.9" height="5.6" fill="#6fb3fb" fill-opacity="0.7"/>
<rect x="347.25" y="267.4" width="1.75" height="5.6" fill="#6fb3fb" fill-opacity="1.0"/>
<rect x="354.86" y="267.4" width="0.9" height="5.6" fill="#6fb3fb" fill-opacity="1.0"/>
<rect x="358.64" y="267.4" width="0.9" height="5.6" fill="#6fb3fb" fill-opacity="1.0"/>
<rect x="361.96" y="267.4" width="0.9" height="5.6" fill="#6fb3fb" fill-opacity="1.0"/>
<rect x="371.76" y="267.4" width="0.9" height="5.6" fill="#6fb3fb" fill-opacity="1.0"/>
<rect x="295.88" y="278.8" width="0.9" height="5.8" fill="#6fb3fb" fill-opacity="0.22"/>
<rect x="299.12" y="278.8" width="0.9" height="5.8" fill="#6fb3fb" fill-opacity="0.42"/>
<rect x="301.14" y="278.8" width="0.9" height="5.8" fill="#6fb3fb" fill-opacity="0.42"/>
<rect x="305.44" y="278.8" width="1.05" height="5.8" fill="#6fb3fb" fill-opacity="0.42"/>
<rect x="309.02" y="278.8" width="0.9" height="5.8" fill="#6fb3fb" fill-opacity="0.7"/>
<rect x="311.82" y="278.8" width="0.9" height="5.8" fill="#6fb3fb" fill-opacity="0.42"/>
<rect x="314.01" y="278.8" width="0.9" height="5.8" fill="#6fb3fb" fill-opacity="0.42"/>
<rect x="315.76" y="278.8" width="0.9" height="5.8" fill="#6fb3fb" fill-opacity="0.42"/>
<rect x="317.95" y="278.8" width="0.9" height="5.8" fill="#6fb3fb" fill-opacity="0.42"/>
<rect x="320.14" y="278.8" width="0.9" height="5.8" fill="#6fb3fb" fill-opacity="0.42"/>
<rect x="322.78" y="278.8" width="0.9" height="5.8" fill="#6fb3fb" fill-opacity="0.42"/>
<rect x="326.46" y="278.8" width="1.05" height="5.8" fill="#6fb3fb" fill-opacity="0.7"/>
<rect x="331.01" y="278.8" width="1.05" height="5.8" fill="#6fb3fb" fill-opacity="0.22"/>
<rect x="335.39" y="278.8" width="1.05" height="5.8" fill="#6fb3fb" fill-opacity="0.7"/>
<rect x="338.79" y="278.8" width="0.9" height="5.8" fill="#6fb3fb" fill-opacity="0.7"/>
<rect x="342.86" y="278.8" width="0.9" height="5.8" fill="#6fb3fb" fill-opacity="0.42"/>
<rect x="345.5" y="278.8" width="0.9" height="5.8" fill="#6fb3fb" fill-opacity="0.42"/>
<rect x="352.93" y="278.8" width="0.9" height="5.8" fill="#6fb3fb" fill-opacity="0.42"/>
<rect x="354.68" y="278.8" width="0.9" height="5.8" fill="#6fb3fb" fill-opacity="0.42"/>
<rect x="358.01" y="278.8" width="0.9" height="5.8" fill="#6fb3fb" fill-opacity="0.42"/>
<rect x="360.99" y="278.8" width="0.9" height="5.8" fill="#6fb3fb" fill-opacity="0.42"/>
<rect x="366.07" y="278.8" width="0.9" height="5.8" fill="#6fb3fb" fill-opacity="0.42"/>
<rect x="367.82" y="278.8" width="0.9" height="5.8" fill="#6fb3fb" fill-opacity="0.42"/>
<rect x="370.01" y="278.8" width="0.9" height="5.8" fill="#6fb3fb" fill-opacity="0.22"/>
<rect x="287.58" y="290.3" width="2.36" height="5.7" fill="#6fb3fb" fill-opacity="0.7"/>
<rect x="291.25" y="290.3" width="0.9" height="5.7" fill="#6fb3fb" fill-opacity="0.7"/>
<rect x="293.87" y="290.3" width="0.9" height="5.7" fill="#6fb3fb" fill-opacity="0.42"/>
<rect x="300.01" y="290.3" width="1.05" height="5.7" fill="#6fb3fb" fill-opacity="0.7"/>
<rect x="303.94" y="290.3" width="0.9" height="5.7" fill="#6fb3fb" fill-opacity="0.7"/>
<rect x="305.69" y="290.3" width="0.9" height="5.7" fill="#6fb3fb" fill-opacity="0.42"/>
<rect x="308.75" y="290.3" width="0.9" height="5.7" fill="#6fb3fb" fill-opacity="0.42"/>
<rect x="312.27" y="290.3" width="1.75" height="5.7" fill="#6fb3fb" fill-opacity="0.22"/>
<rect x="316.2" y="290.3" width="0.9" height="5.7" fill="#6fb3fb" fill-opacity="0.42"/>
<rect x="317.95" y="290.3" width="0.9" height="5.7" fill="#6fb3fb" fill-opacity="0.42"/>
<rect x="320.14" y="290.3" width="0.9" height="5.7" fill="#6fb3fb" fill-opacity="0.42"/>
<rect x="323.2" y="290.3" width="0.9" height="5.7" fill="#6fb3fb" fill-opacity="0.42"/>
<rect x="325.93" y="290.3" width="1.05" height="5.7" fill="#6fb3fb" fill-opacity="0.7"/>
<rect x="331.08" y="290.3" width="0.9" height="5.7" fill="#6fb3fb" fill-opacity="0.42"/>
<rect x="335.02" y="290.3" width="0.9" height="5.7" fill="#6fb3fb" fill-opacity="0.7"/>
<rect x="340.72" y="290.3" width="0.9" height="5.7" fill="#6fb3fb" fill-opacity="0.22"/>
<rect x="342.86" y="290.3" width="0.9" height="5.7" fill="#6fb3fb" fill-opacity="0.22"/>
<rect x="345.05" y="290.3" width="0.9" height="5.7" fill="#6fb3fb" fill-opacity="0.22"/>
<rect x="352.93" y="290.3" width="0.9" height="5.7" fill="#6fb3fb" fill-opacity="0.42"/>
<rect x="367.82" y="290.3" width="0.9" height="5.7" fill="#6fb3fb" fill-opacity="0.7"/>
<rect x="370.88" y="290.3" width="0.9" height="5.7" fill="#6fb3fb" fill-opacity="0.7"/>
<rect x="287.2" y="267" width="112.3" height="29.3" fill="none" stroke="#aaa5a3" stroke-width="1.1"/>
<path d="M371.3 263.6L374.9 263.6L373.1 266.6Z" fill="#e8141c"/>
<rect x="296.06" y="309.4" width="0.9" height="5.6" fill="#6fb3fb" fill-opacity="1.0"/>
<rect x="298.25" y="309.4" width="0.9" height="5.6" fill="#6fb3fb" fill-opacity="1.0"/>
<rect x="300.96" y="309.4" width="0.9" height="5.6" fill="#6fb3fb" fill-opacity="1.0"/>
<rect x="302.19" y="309.4" width="0.9" height="5.6" fill="#6fb3fb" fill-opacity="1.0"/>
<rect x="303.06" y="309.4" width="0.9" height="5.6" fill="#6fb3fb" fill-opacity="1.0"/>
<rect x="304.11" y="309.4" width="0.9" height="5.6" fill="#6fb3fb" fill-opacity="1.0"/>
<rect x="309.2" y="309.4" width="1.31" height="5.6" fill="#6fb3fb" fill-opacity="1.0"/>
<rect x="312.87" y="309.4" width="0.9" height="5.6" fill="#6fb3fb" fill-opacity="0.7"/>
<rect x="315.15" y="309.4" width="0.9" height="5.6" fill="#6fb3fb" fill-opacity="1.0"/>
<rect x="295.18" y="320.8" width="0.9" height="5.8" fill="#6fb3fb" fill-opacity="0.42"/>
<rect x="297.81" y="320.8" width="0.9" height="5.8" fill="#6fb3fb" fill-opacity="0.42"/>
<rect x="300.44" y="320.8" width="0.9" height="5.8" fill="#6fb3fb" fill-opacity="0.7"/>
<rect x="303.06" y="320.8" width="0.9" height="5.8" fill="#6fb3fb" fill-opacity="0.42"/>
<rect x="307.89" y="320.8" width="0.9" height="5.8" fill="#6fb3fb" fill-opacity="0.7"/>
<rect x="312.26" y="320.8" width="0.9" height="5.8" fill="#6fb3fb" fill-opacity="0.22"/>
<rect x="314.45" y="320.8" width="0.9" height="5.8" fill="#6fb3fb" fill-opacity="0.22"/>
<rect x="289.06" y="332.3" width="0.9" height="5.7" fill="#6fb3fb" fill-opacity="1.0"/>
<rect x="290.37" y="332.3" width="0.9" height="5.7" fill="#6fb3fb" fill-opacity="1.0"/>
<rect x="291.68" y="332.3" width="0.9" height="5.7" fill="#6fb3fb" fill-opacity="1.0"/>
<rect x="295.18" y="332.3" width="0.9" height="5.7" fill="#6fb3fb" fill-opacity="0.42"/>
<rect x="297.37" y="332.3" width="0.9" height="5.7" fill="#6fb3fb" fill-opacity="0.42"/>
<rect x="300" y="332.3" width="0.9" height="5.7" fill="#6fb3fb" fill-opacity="0.7"/>
<rect x="300.87" y="332.3" width="0.9" height="5.7" fill="#6fb3fb" fill-opacity="0.42"/>
<rect x="303.06" y="332.3" width="0.9" height="5.7" fill="#6fb3fb" fill-opacity="0.42"/>
<rect x="305.87" y="332.3" width="0.9" height="5.7" fill="#6fb3fb" fill-opacity="0.7"/>
<rect x="307.88" y="332.3" width="0.9" height="5.7" fill="#6fb3fb" fill-opacity="0.42"/>
<rect x="308.75" y="332.3" width="0.9" height="5.7" fill="#6fb3fb" fill-opacity="0.42"/>
<rect x="311.38" y="332.3" width="0.9" height="5.7" fill="#6fb3fb" fill-opacity="0.22"/>
<rect x="312.7" y="332.3" width="0.9" height="5.7" fill="#6fb3fb" fill-opacity="0.22"/>
<rect x="314.01" y="332.3" width="0.9" height="5.7" fill="#6fb3fb" fill-opacity="0.22"/>
<rect x="287.2" y="309" width="112.3" height="29.3" fill="none" stroke="#aaa5a3" stroke-width="1.1"/>
<path d="M314.4 305.6L318 305.6L316.2 308.6Z" fill="#e8141c"/>
<rect x="322.77" y="350.8" width="0.9" height="5.6" fill="#6fb3fb" fill-opacity="1.0"/>
<rect x="325.83" y="350.8" width="0.9" height="5.6" fill="#6fb3fb" fill-opacity="0.42"/>
<rect x="326.71" y="350.8" width="0.9" height="5.6" fill="#6fb3fb" fill-opacity="0.42"/>
<rect x="327.58" y="350.8" width="0.9" height="5.6" fill="#6fb3fb" fill-opacity="0.42"/>
<rect x="328.46" y="350.8" width="0.9" height="5.6" fill="#6fb3fb" fill-opacity="0.42"/>
<rect x="330.65" y="350.8" width="0.9" height="5.6" fill="#6fb3fb" fill-opacity="1.0"/>
<rect x="333.71" y="350.8" width="0.9" height="5.6" fill="#6fb3fb" fill-opacity="0.42"/>
<rect x="335.9" y="350.8" width="0.9" height="5.6" fill="#6fb3fb" fill-opacity="0.7"/>
<rect x="337.84" y="350.8" width="1.05" height="5.6" fill="#6fb3fb" fill-opacity="1.0"/>
<rect x="342.47" y="350.8" width="0.9" height="5.6" fill="#6fb3fb" fill-opacity="0.42"/>
<rect x="342.43" y="350.8" width="0.9" height="5.6" fill="#6fb3fb" fill-opacity="0.42"/>
<rect x="346.98" y="350.8" width="0.9" height="5.6" fill="#6fb3fb" fill-opacity="1.0"/>
<rect x="351.02" y="350.8" width="0.9" height="5.6" fill="#6fb3fb" fill-opacity="1.0"/>
<rect x="356.87" y="350.8" width="0.9" height="5.6" fill="#6fb3fb" fill-opacity="1.0"/>
<rect x="358.19" y="350.8" width="0.9" height="5.6" fill="#6fb3fb" fill-opacity="1.0"/>
<rect x="359.5" y="350.8" width="0.9" height="5.6" fill="#6fb3fb" fill-opacity="1.0"/>
<rect x="362.58" y="350.8" width="0.9" height="5.6" fill="#6fb3fb" fill-opacity="1.0"/>
<rect x="366.07" y="350.8" width="0.9" height="5.6" fill="#6fb3fb" fill-opacity="0.7"/>
<rect x="370.2" y="350.8" width="1.05" height="5.6" fill="#6fb3fb" fill-opacity="1.0"/>
<rect x="374.4" y="350.8" width="1.31" height="5.6" fill="#6fb3fb" fill-opacity="1.0"/>
<rect x="377.45" y="350.8" width="0.9" height="5.6" fill="#6fb3fb" fill-opacity="0.42"/>
<rect x="380.95" y="350.8" width="0.9" height="5.6" fill="#6fb3fb" fill-opacity="0.7"/>
<rect x="383.14" y="350.8" width="0.9" height="5.6" fill="#6fb3fb" fill-opacity="0.7"/>
<rect x="385.16" y="350.8" width="0.9" height="5.6" fill="#6fb3fb" fill-opacity="1.0"/>
<rect x="387.96" y="350.8" width="0.9" height="5.6" fill="#6fb3fb" fill-opacity="0.7"/>
<rect x="324.95" y="362.2" width="0.9" height="5.8" fill="#6fb3fb" fill-opacity="0.42"/>
<rect x="327.14" y="362.2" width="0.9" height="5.8" fill="#6fb3fb" fill-opacity="0.42"/>
<rect x="330.21" y="362.2" width="0.9" height="5.8" fill="#6fb3fb" fill-opacity="0.42"/>
<rect x="331.96" y="362.2" width="0.9" height="5.8" fill="#6fb3fb" fill-opacity="0.42"/>
<rect x="333.71" y="362.2" width="0.9" height="5.8" fill="#6fb3fb" fill-opacity="0.7"/>
<rect x="335.9" y="362.2" width="0.9" height="5.8" fill="#6fb3fb" fill-opacity="0.7"/>
<rect x="337.91" y="362.2" width="0.9" height="5.8" fill="#6fb3fb" fill-opacity="0.22"/>
<rect x="342.03" y="362.2" width="0.9" height="5.8" fill="#6fb3fb" fill-opacity="0.7"/>
<rect x="341.99" y="362.2" width="0.9" height="5.8" fill="#6fb3fb" fill-opacity="0.7"/>
<rect x="346.37" y="362.2" width="0.9" height="5.8" fill="#6fb3fb" fill-opacity="0.22"/>
<rect x="349.87" y="362.2" width="0.9" height="5.8" fill="#6fb3fb" fill-opacity="0.42"/>
<rect x="355.74" y="362.2" width="0.9" height="5.8" fill="#6fb3fb" fill-opacity="0.7"/>
<rect x="362.13" y="362.2" width="0.9" height="5.8" fill="#6fb3fb" fill-opacity="0.42"/>
<rect x="365.19" y="362.2" width="0.9" height="5.8" fill="#6fb3fb" fill-opacity="0.42"/>
<rect x="366.94" y="362.2" width="0.9" height="5.8" fill="#6fb3fb" fill-opacity="0.7"/>
<rect x="369.57" y="362.2" width="0.9" height="5.8" fill="#6fb3fb" fill-opacity="0.22"/>
<rect x="372.3" y="362.2" width="1.05" height="5.8" fill="#6fb3fb" fill-opacity="0.7"/>
<rect x="377.01" y="362.2" width="0.9" height="5.8" fill="#6fb3fb" fill-opacity="0.42"/>
<rect x="380.08" y="362.2" width="0.9" height="5.8" fill="#6fb3fb" fill-opacity="0.42"/>
<rect x="382.71" y="362.2" width="0.9" height="5.8" fill="#6fb3fb" fill-opacity="0.42"/>
<rect x="384.9" y="362.2" width="0.9" height="5.8" fill="#6fb3fb" fill-opacity="0.42"/>
<rect x="387.96" y="362.2" width="0.9" height="5.8" fill="#6fb3fb" fill-opacity="0.22"/>
<rect x="287.3" y="373.7" width="0.9" height="5.7" fill="#6fb3fb" fill-opacity="1.0"/>
<rect x="289.93" y="373.7" width="0.9" height="5.7" fill="#6fb3fb" fill-opacity="0.42"/>
<rect x="292.56" y="373.7" width="0.9" height="5.7" fill="#6fb3fb" fill-opacity="0.42"/>
<rect x="295.18" y="373.7" width="0.9" height="5.7" fill="#6fb3fb" fill-opacity="0.22"/>
<rect x="299.56" y="373.7" width="0.9" height="5.7" fill="#6fb3fb" fill-opacity="0.7"/>
<rect x="302.19" y="373.7" width="0.9" height="5.7" fill="#6fb3fb" fill-opacity="1.0"/>
<rect x="303.06" y="373.7" width="0.9" height="5.7" fill="#6fb3fb" fill-opacity="1.0"/>
<rect x="304.38" y="373.7" width="0.9" height="5.7" fill="#6fb3fb" fill-opacity="1.0"/>
<rect x="305.51" y="373.7" width="0.9" height="5.7" fill="#6fb3fb" fill-opacity="1.0"/>
<rect x="306.57" y="373.7" width="0.9" height="5.7" fill="#6fb3fb" fill-opacity="1.0"/>
<rect x="307.88" y="373.7" width="0.9" height="5.7" fill="#6fb3fb" fill-opacity="1.0"/>
<rect x="310.94" y="373.7" width="0.9" height="5.7" fill="#6fb3fb" fill-opacity="1.0"/>
<rect x="311.82" y="373.7" width="0.9" height="5.7" fill="#6fb3fb" fill-opacity="1.0"/>
<rect x="312.87" y="373.7" width="0.9" height="5.7" fill="#6fb3fb" fill-opacity="1.0"/>
<rect x="314.88" y="373.7" width="0.9" height="5.7" fill="#6fb3fb" fill-opacity="0.7"/>
<rect x="316.64" y="373.7" width="0.9" height="5.7" fill="#6fb3fb" fill-opacity="0.7"/>
<rect x="317.95" y="373.7" width="0.9" height="5.7" fill="#6fb3fb" fill-opacity="0.7"/>
<rect x="321.03" y="373.7" width="0.9" height="5.7" fill="#6fb3fb" fill-opacity="1.0"/>
<rect x="324.95" y="373.7" width="0.9" height="5.7" fill="#6fb3fb" fill-opacity="0.7"/>
<rect x="329.33" y="373.7" width="0.9" height="5.7" fill="#6fb3fb" fill-opacity="0.7"/>
<rect x="331.96" y="373.7" width="0.9" height="5.7" fill="#6fb3fb" fill-opacity="0.42"/>
<rect x="333.71" y="373.7" width="0.9" height="5.7" fill="#6fb3fb" fill-opacity="0.42"/>
<rect x="335.9" y="373.7" width="0.9" height="5.7" fill="#6fb3fb" fill-opacity="0.7"/>
<rect x="340.72" y="373.7" width="0.9" height="5.7" fill="#6fb3fb" fill-opacity="0.7"/>
<rect x="345.93" y="373.7" width="0.9" height="5.7" fill="#6fb3fb" fill-opacity="0.7"/>
<rect x="349.87" y="373.7" width="0.9" height="5.7" fill="#6fb3fb" fill-opacity="0.7"/>
<rect x="355.57" y="373.7" width="0.9" height="5.7" fill="#6fb3fb" fill-opacity="0.7"/>
<rect x="362.13" y="373.7" width="0.9" height="5.7" fill="#6fb3fb" fill-opacity="0.42"/>
<rect x="364.75" y="373.7" width="0.9" height="5.7" fill="#6fb3fb" fill-opacity="0.42"/>
<rect x="366.94" y="373.7" width="0.9" height="5.7" fill="#6fb3fb" fill-opacity="0.7"/>
<rect x="369.57" y="373.7" width="0.9" height="5.7" fill="#6fb3fb" fill-opacity="0.42"/>
<rect x="371.76" y="373.7" width="0.9" height="5.7" fill="#6fb3fb" fill-opacity="0.42"/>
<rect x="377.01" y="373.7" width="0.9" height="5.7" fill="#6fb3fb" fill-opacity="0.7"/>
<rect x="380.08" y="373.7" width="0.9" height="5.7" fill="#6fb3fb" fill-opacity="0.7"/>
<rect x="382.71" y="373.7" width="0.9" height="5.7" fill="#6fb3fb" fill-opacity="0.42"/>
<rect x="385.33" y="373.7" width="0.9" height="5.7" fill="#6fb3fb" fill-opacity="0.42"/>
<rect x="387.96" y="373.7" width="0.9" height="5.7" fill="#6fb3fb" fill-opacity="0.42"/>
<rect x="287.2" y="350.4" width="112.3" height="29.3" fill="none" stroke="#aaa5a3" stroke-width="1.1"/>
<path d="M386.8 347L390.4 347L388.6 350Z" fill="#e8141c"/>
<rect x="423.01" y="267.4" width="0.9" height="5.6" fill="#6fb3fb" fill-opacity="0.42"/>
<rect x="427.13" y="267.4" width="0.9" height="5.6" fill="#6fb3fb" fill-opacity="0.22"/>
<rect x="429.14" y="267.4" width="0.9" height="5.6" fill="#6fb3fb" fill-opacity="1.0"/>
<rect x="432.82" y="267.4" width="0.9" height="5.6" fill="#6fb3fb" fill-opacity="0.42"/>
<rect x="442.01" y="267.4" width="0.9" height="5.6" fill="#6fb3fb" fill-opacity="0.22"/>
<rect x="456.21" y="267.4" width="1.05" height="5.6" fill="#6fb3fb" fill-opacity="0.7"/>
<rect x="466.09" y="267.4" width="0.9" height="5.6" fill="#6fb3fb" fill-opacity="0.42"/>
<rect x="466.05" y="267.4" width="0.9" height="5.6" fill="#6fb3fb" fill-opacity="0.42"/>
<rect x="471.04" y="267.4" width="0.9" height="5.6" fill="#6fb3fb" fill-opacity="1.0"/>
<rect x="480.94" y="267.4" width="0.9" height="5.6" fill="#6fb3fb" fill-opacity="1.0"/>
<rect x="502.32" y="267.4" width="1.05" height="5.6" fill="#6fb3fb" fill-opacity="0.7"/>
<rect x="511.6" y="267.4" width="1.75" height="5.6" fill="#6fb3fb" fill-opacity="1.0"/>
<rect x="421" y="278.8" width="0.9" height="5.8" fill="#6fb3fb" fill-opacity="0.7"/>
<rect x="423.01" y="278.8" width="0.9" height="5.8" fill="#6fb3fb" fill-opacity="0.22"/>
<rect x="427.13" y="278.8" width="0.9" height="5.8" fill="#6fb3fb" fill-opacity="0.22"/>
<rect x="429.14" y="278.8" width="0.9" height="5.8" fill="#6fb3fb" fill-opacity="0.7"/>
<rect x="431.07" y="278.8" width="0.9" height="5.8" fill="#6fb3fb" fill-opacity="0.7"/>
<rect x="433.62" y="278.8" width="1.05" height="5.8" fill="#6fb3fb" fill-opacity="0.7"/>
<rect x="437.02" y="278.8" width="0.9" height="5.8" fill="#6fb3fb" fill-opacity="0.7"/>
<rect x="441.59" y="278.8" width="3.06" height="5.8" fill="#6fb3fb" fill-opacity="0.42"/>
<rect x="447.46" y="278.8" width="1.05" height="5.8" fill="#6fb3fb" fill-opacity="0.42"/>
<rect x="456.02" y="278.8" width="0.9" height="5.8" fill="#6fb3fb" fill-opacity="0.7"/>
<rect x="458.91" y="278.8" width="0.9" height="5.8" fill="#6fb3fb" fill-opacity="0.7"/>
<rect x="463.91" y="278.8" width="0.9" height="5.8" fill="#6fb3fb" fill-opacity="0.7"/>
<rect x="466.09" y="278.8" width="0.9" height="5.8" fill="#6fb3fb" fill-opacity="0.7"/>
<rect x="463.86" y="278.8" width="0.9" height="5.8" fill="#6fb3fb" fill-opacity="0.7"/>
<rect x="466.05" y="278.8" width="0.9" height="5.8" fill="#6fb3fb" fill-opacity="0.7"/>
<rect x="469.13" y="278.8" width="2.19" height="5.8" fill="#6fb3fb" fill-opacity="0.42"/>
<rect x="473.93" y="278.8" width="0.9" height="5.8" fill="#6fb3fb" fill-opacity="0.42"/>
<rect x="477" y="278.8" width="0.9" height="5.8" fill="#6fb3fb" fill-opacity="0.7"/>
<rect x="480.06" y="278.8" width="0.9" height="5.8" fill="#6fb3fb" fill-opacity="0.42"/>
<rect x="484" y="278.8" width="0.9" height="5.8" fill="#6fb3fb" fill-opacity="1.0"/>
<rect x="488.39" y="278.8" width="1.75" height="5.8" fill="#6fb3fb" fill-opacity="0.42"/>
<rect x="492.25" y="278.8" width="1.05" height="5.8" fill="#6fb3fb" fill-opacity="0.42"/>
<rect x="501.95" y="278.8" width="0.9" height="5.8" fill="#6fb3fb" fill-opacity="0.7"/>
<rect x="507.91" y="278.8" width="0.9" height="5.8" fill="#6fb3fb" fill-opacity="0.7"/>
<rect x="510.27" y="278.8" width="0.9" height="5.8" fill="#6fb3fb" fill-opacity="0.42"/>
<rect x="519.03" y="278.8" width="0.9" height="5.8" fill="#6fb3fb" fill-opacity="0.7"/>
<rect x="410.5" y="290.3" width="0.9" height="5.7" fill="#6fb3fb" fill-opacity="1.0"/>
<rect x="416.63" y="290.3" width="0.9" height="5.7" fill="#6fb3fb" fill-opacity="1.0"/>
<rect x="421" y="290.3" width="0.9" height="5.7" fill="#6fb3fb" fill-opacity="0.7"/>
<rect x="423.01" y="290.3" width="0.9" height="5.7" fill="#6fb3fb" fill-opacity="1.0"/>
<rect x="427.13" y="290.3" width="0.9" height="5.7" fill="#6fb3fb" fill-opacity="0.22"/>
<rect x="429.14" y="290.3" width="0.9" height="5.7" fill="#6fb3fb" fill-opacity="0.42"/>
<rect x="431.24" y="290.3" width="0.9" height="5.7" fill="#6fb3fb" fill-opacity="0.7"/>
<rect x="432.82" y="290.3" width="0.9" height="5.7" fill="#6fb3fb" fill-opacity="0.42"/>
<rect x="437.02" y="290.3" width="0.9" height="5.7" fill="#6fb3fb" fill-opacity="0.7"/>
<rect x="440.71" y="290.3" width="3.06" height="5.7" fill="#6fb3fb" fill-opacity="0.42"/>
<rect x="445.95" y="290.3" width="0.9" height="5.7" fill="#6fb3fb" fill-opacity="0.7"/>
<rect x="456.02" y="290.3" width="0.9" height="5.7" fill="#6fb3fb" fill-opacity="0.42"/>
<rect x="460.84" y="290.3" width="0.9" height="5.7" fill="#6fb3fb" fill-opacity="0.42"/>
<rect x="466.09" y="290.3" width="0.9" height="5.7" fill="#6fb3fb" fill-opacity="0.42"/>
<rect x="466.05" y="290.3" width="0.9" height="5.7" fill="#6fb3fb" fill-opacity="0.7"/>
<rect x="468.24" y="290.3" width="0.9" height="5.7" fill="#6fb3fb" fill-opacity="0.42"/>
<rect x="477" y="290.3" width="0.9" height="5.7" fill="#6fb3fb" fill-opacity="0.7"/>
<rect x="480.06" y="290.3" width="0.9" height="5.7" fill="#6fb3fb" fill-opacity="0.7"/>
<rect x="488.82" y="290.3" width="0.9" height="5.7" fill="#6fb3fb" fill-opacity="0.42"/>
<rect x="492.06" y="290.3" width="0.9" height="5.7" fill="#6fb3fb" fill-opacity="0.7"/>
<rect x="501" y="290.3" width="1.05" height="5.7" fill="#6fb3fb" fill-opacity="0.42"/>
<rect x="507.21" y="290.3" width="0.9" height="5.7" fill="#6fb3fb" fill-opacity="0.22"/>
<rect x="509.84" y="290.3" width="0.9" height="5.7" fill="#6fb3fb" fill-opacity="0.7"/>
<rect x="519.03" y="290.3" width="0.9" height="5.7" fill="#6fb3fb" fill-opacity="0.22"/>
<rect x="409.3" y="267" width="111.9" height="29.3" fill="none" stroke="#aaa5a3" stroke-width="1.1"/>
<rect x="444.03" y="309.4" width="0.9" height="5.6" fill="#6fb3fb" fill-opacity="1.0"/>
<rect x="448.58" y="309.4" width="0.9" height="5.6" fill="#6fb3fb" fill-opacity="0.22"/>
<rect x="451.22" y="309.4" width="2.63" height="5.6" fill="#6fb3fb" fill-opacity="1.0"/>
<rect x="460.33" y="309.4" width="1.05" height="5.6" fill="#6fb3fb" fill-opacity="1.0"/>
<rect x="466.09" y="309.4" width="0.9" height="5.6" fill="#6fb3fb" fill-opacity="0.7"/>
<rect x="466.15" y="309.4" width="1.05" height="5.6" fill="#6fb3fb" fill-opacity="0.7"/>
<rect x="474.21" y="309.4" width="5.6" height="5.6" fill="#6fb3fb" fill-opacity="1.0"/>
<rect x="485.14" y="309.4" width="0.9" height="5.6" fill="#6fb3fb" fill-opacity="1.0"/>
<rect x="491.72" y="309.4" width="2.1" height="5.6" fill="#6fb3fb" fill-opacity="1.0"/>
<rect x="500.22" y="309.4" width="2.63" height="5.6" fill="#6fb3fb" fill-opacity="1.0"/>
<rect x="507.91" y="309.4" width="0.9" height="5.6" fill="#6fb3fb" fill-opacity="1.0"/>
<rect x="510.71" y="309.4" width="0.9" height="5.6" fill="#6fb3fb" fill-opacity="0.42"/>
<rect x="516.84" y="309.4" width="0.9" height="5.6" fill="#6fb3fb" fill-opacity="1.0"/>
<rect x="421" y="320.8" width="0.9" height="5.8" fill="#6fb3fb" fill-opacity="0.7"/>
<rect x="425.64" y="320.8" width="0.9" height="5.8" fill="#6fb3fb" fill-opacity="0.42"/>
<rect x="430.02" y="320.8" width="0.9" height="5.8" fill="#6fb3fb" fill-opacity="0.42"/>
<rect x="432.82" y="320.8" width="0.9" height="5.8" fill="#6fb3fb" fill-opacity="0.7"/>
<rect x="440.88" y="320.8" width="0.9" height="5.8" fill="#6fb3fb" fill-opacity="0.7"/>
<rect x="443.77" y="320.8" width="0.9" height="5.8" fill="#6fb3fb" fill-opacity="0.42"/>
<rect x="447.71" y="320.8" width="0.9" height="5.8" fill="#6fb3fb" fill-opacity="0.7"/>
<rect x="449.9" y="320.8" width="0.9" height="5.8" fill="#6fb3fb" fill-opacity="0.7"/>
<rect x="456.02" y="320.8" width="0.9" height="5.8" fill="#6fb3fb" fill-opacity="0.7"/>
<rect x="457.78" y="320.8" width="0.9" height="5.8" fill="#6fb3fb" fill-opacity="0.7"/>
<rect x="459.97" y="320.8" width="0.9" height="5.8" fill="#6fb3fb" fill-opacity="0.42"/>
<rect x="463.91" y="320.8" width="0.9" height="5.8" fill="#6fb3fb" fill-opacity="0.7"/>
<rect x="466.09" y="320.8" width="0.9" height="5.8" fill="#6fb3fb" fill-opacity="0.7"/>
<rect x="463.86" y="320.8" width="0.9" height="5.8" fill="#6fb3fb" fill-opacity="0.42"/>
<rect x="466.05" y="320.8" width="0.9" height="5.8" fill="#6fb3fb" fill-opacity="0.42"/>
<rect x="473.42" y="320.8" width="1.05" height="5.8" fill="#6fb3fb" fill-opacity="0.42"/>
<rect x="484" y="320.8" width="0.9" height="5.8" fill="#6fb3fb" fill-opacity="0.42"/>
<rect x="491.01" y="320.8" width="0.9" height="5.8" fill="#6fb3fb" fill-opacity="0.42"/>
<rect x="498.89" y="320.8" width="0.9" height="5.8" fill="#6fb3fb" fill-opacity="0.42"/>
<rect x="507.21" y="320.8" width="0.9" height="5.8" fill="#6fb3fb" fill-opacity="0.42"/>
<rect x="510.71" y="320.8" width="0.9" height="5.8" fill="#6fb3fb" fill-opacity="0.22"/>
<rect x="514.04" y="320.8" width="0.9" height="5.8" fill="#6fb3fb" fill-opacity="1.0"/>
<rect x="516.4" y="320.8" width="0.9" height="5.8" fill="#6fb3fb" fill-opacity="0.22"/>
<rect x="409.18" y="332.3" width="0.9" height="5.7" fill="#6fb3fb" fill-opacity="1.0"/>
<rect x="411.8" y="332.3" width="0.9" height="5.7" fill="#6fb3fb" fill-opacity="0.42"/>
<rect x="415.23" y="332.3" width="1.05" height="5.7" fill="#6fb3fb" fill-opacity="1.0"/>
<rect x="417.93" y="332.3" width="0.9" height="5.7" fill="#6fb3fb" fill-opacity="0.42"/>
<rect x="421.36" y="332.3" width="1.05" height="5.7" fill="#6fb3fb" fill-opacity="1.0"/>
<rect x="424.51" y="332.3" width="0.9" height="5.7" fill="#6fb3fb" fill-opacity="0.42"/>
<rect x="429.75" y="332.3" width="0.9" height="5.7" fill="#6fb3fb" fill-opacity="0.42"/>
<rect x="432.82" y="332.3" width="0.9" height="5.7" fill="#6fb3fb" fill-opacity="0.42"/>
<rect x="437.3" y="332.3" width="1.05" height="5.7" fill="#6fb3fb" fill-opacity="1.0"/>
<rect x="440.88" y="332.3" width="0.9" height="5.7" fill="#6fb3fb" fill-opacity="0.7"/>
<rect x="442.89" y="332.3" width="0.9" height="5.7" fill="#6fb3fb" fill-opacity="0.42"/>
<rect x="448.14" y="332.3" width="0.9" height="5.7" fill="#6fb3fb" fill-opacity="0.7"/>
<rect x="459.97" y="332.3" width="0.9" height="5.7" fill="#6fb3fb" fill-opacity="0.42"/>
<rect x="473.06" y="332.3" width="0.9" height="5.7" fill="#6fb3fb" fill-opacity="0.42"/>
<rect x="491.01" y="332.3" width="0.9" height="5.7" fill="#6fb3fb" fill-opacity="0.42"/>
<rect x="514.21" y="332.3" width="0.9" height="5.7" fill="#6fb3fb" fill-opacity="0.42"/>
<rect x="516.4" y="332.3" width="0.9" height="5.7" fill="#6fb3fb" fill-opacity="0.22"/>
<rect x="409.3" y="309" width="111.9" height="29.3" fill="none" stroke="#aaa5a3" stroke-width="1.1"/>
<path d="M515.9 305.6L519.5 305.6L517.7 308.6Z" fill="#e8141c"/>
<rect x="424.06" y="362.2" width="0.9" height="5.8" fill="#6fb3fb" fill-opacity="0.7"/>
<rect x="428.44" y="362.2" width="0.9" height="5.8" fill="#6fb3fb" fill-opacity="0.22"/>
<rect x="430.89" y="362.2" width="0.9" height="5.8" fill="#6fb3fb" fill-opacity="0.7"/>
<rect x="432.99" y="362.2" width="0.9" height="5.8" fill="#6fb3fb" fill-opacity="0.7"/>
<rect x="466.09" y="362.2" width="0.9" height="5.8" fill="#6fb3fb" fill-opacity="0.42"/>
<rect x="466.94" y="362.2" width="0.9" height="5.8" fill="#6fb3fb" fill-opacity="0.42"/>
<rect x="474.82" y="362.2" width="2.19" height="5.8" fill="#6fb3fb" fill-opacity="0.42"/>
<rect x="495.82" y="362.2" width="0.9" height="5.8" fill="#6fb3fb" fill-opacity="0.7"/>
<rect x="502.4" y="362.2" width="0.9" height="5.8" fill="#6fb3fb" fill-opacity="1.0"/>
<rect x="507.91" y="362.2" width="0.9" height="5.8" fill="#6fb3fb" fill-opacity="0.7"/>
<rect x="512.02" y="362.2" width="0.9" height="5.8" fill="#6fb3fb" fill-opacity="0.7"/>
<rect x="410.05" y="373.7" width="0.9" height="5.7" fill="#6fb3fb" fill-opacity="0.7"/>
<rect x="411.37" y="373.7" width="0.9" height="5.7" fill="#6fb3fb" fill-opacity="0.7"/>
<rect x="412.68" y="373.7" width="0.9" height="5.7" fill="#6fb3fb" fill-opacity="0.7"/>
<rect x="413.99" y="373.7" width="0.9" height="5.7" fill="#6fb3fb" fill-opacity="0.7"/>
<rect x="414.87" y="373.7" width="0.9" height="5.7" fill="#6fb3fb" fill-opacity="0.7"/>
<rect x="417.06" y="373.7" width="0.9" height="5.7" fill="#6fb3fb" fill-opacity="1.0"/>
<rect x="419.25" y="373.7" width="0.9" height="5.7" fill="#6fb3fb" fill-opacity="0.7"/>
<rect x="420.56" y="373.7" width="0.9" height="5.7" fill="#6fb3fb" fill-opacity="0.42"/>
<rect x="422.76" y="373.7" width="0.9" height="5.7" fill="#6fb3fb" fill-opacity="0.7"/>
<rect x="427.58" y="373.7" width="0.9" height="5.7" fill="#6fb3fb" fill-opacity="1.0"/>
<rect x="431.94" y="373.7" width="0.9" height="5.7" fill="#6fb3fb" fill-opacity="0.7"/>
<rect x="433.26" y="373.7" width="0.9" height="5.7" fill="#6fb3fb" fill-opacity="0.7"/>
<rect x="439.82" y="373.7" width="0.9" height="5.7" fill="#6fb3fb" fill-opacity="0.42"/>
<rect x="441.58" y="373.7" width="0.9" height="5.7" fill="#6fb3fb" fill-opacity="0.42"/>
<rect x="442.89" y="373.7" width="0.9" height="5.7" fill="#6fb3fb" fill-opacity="0.42"/>
<rect x="446.4" y="373.7" width="1.75" height="5.7" fill="#6fb3fb" fill-opacity="0.42"/>
<rect x="450.33" y="373.7" width="0.9" height="5.7" fill="#6fb3fb" fill-opacity="0.7"/>
<rect x="452.08" y="373.7" width="0.9" height="5.7" fill="#6fb3fb" fill-opacity="0.7"/>
<rect x="454.27" y="373.7" width="0.9" height="5.7" fill="#6fb3fb" fill-opacity="0.7"/>
<rect x="456.02" y="373.7" width="0.9" height="5.7" fill="#6fb3fb" fill-opacity="0.7"/>
<rect x="457.78" y="373.7" width="0.9" height="5.7" fill="#6fb3fb" fill-opacity="0.42"/>
<rect x="461.89" y="373.7" width="0.9" height="5.7" fill="#6fb3fb" fill-opacity="1.0"/>
<rect x="466.09" y="373.7" width="0.9" height="5.7" fill="#6fb3fb" fill-opacity="0.7"/>
<rect x="466.33" y="373.7" width="4.55" height="5.7" fill="#6fb3fb" fill-opacity="1.0"/>
<rect x="473.33" y="373.7" width="5.43" height="5.7" fill="#6fb3fb" fill-opacity="0.7"/>
<rect x="480.94" y="373.7" width="0.9" height="5.7" fill="#6fb3fb" fill-opacity="0.7"/>
<rect x="482.7" y="373.7" width="2.19" height="5.7" fill="#6fb3fb" fill-opacity="0.22"/>
<rect x="486.89" y="373.7" width="0.9" height="5.7" fill="#6fb3fb" fill-opacity="0.7"/>
<rect x="492.76" y="373.7" width="0.9" height="5.7" fill="#6fb3fb" fill-opacity="0.42"/>
<rect x="495.82" y="373.7" width="0.9" height="5.7" fill="#6fb3fb" fill-opacity="0.7"/>
<rect x="501.97" y="373.7" width="7.44" height="5.7" fill="#6fb3fb" fill-opacity="0.7"/>
<rect x="512.04" y="373.7" width="2.63" height="5.7" fill="#6fb3fb" fill-opacity="1.0"/>
<rect x="517.02" y="373.7" width="0.9" height="5.7" fill="#6fb3fb" fill-opacity="0.7"/>
<rect x="409.3" y="350.4" width="111.9" height="29.3" fill="none" stroke="#aaa5a3" stroke-width="1.1"/>
<text x="286.3" y="389.6" font-size="9.2" text-anchor="middle" fill="#181818" stroke="#181818" stroke-width="0.14">0</text>
<text x="343.5" y="389.6" font-size="9.2" text-anchor="middle" fill="#181818" stroke="#181818" stroke-width="0.14">Time (min)</text>
<text x="398" y="389.6" font-size="9.2" text-anchor="middle" fill="#181818" stroke="#181818" stroke-width="0.14">30</text>
<text x="410.2" y="389.6" font-size="9.2" text-anchor="middle" fill="#181818" stroke="#181818" stroke-width="0.14">0</text>
<text x="467.4" y="389.6" font-size="9.2" text-anchor="middle" fill="#181818" stroke="#181818" stroke-width="0.14">Time (min)</text>
<text x="521.2" y="389.6" font-size="9.2" text-anchor="middle" fill="#181818" stroke="#181818" stroke-width="0.14">30</text>
<path d="M285.5 400.8L289.9 400.8L287.7 404.3Z" fill="#e8141c"/>
<text x="296.6" y="405.1" font-size="9.2" text-anchor="start" fill="#181818" stroke="#181818" stroke-width="0.14">Ejaculation</text>
<g fill="none" stroke="#8a8a8a" stroke-width="0.8"><circle cx="307.4" cy="679" r="2.1"/><path d="M307.4 681.1V684.8M305.6 682.8H309.2"/></g>
<text x="313.1" y="683.3" font-size="9.2" text-anchor="start" fill="#181818" stroke="#181818" stroke-width="0.14">Optimal +</text>
<g fill="none" stroke="#8a8a8a" stroke-width="0.8"><circle cx="358.22" cy="681.8" r="2.1"/><path d="M359.42 680.1L361.12 676.2M359.42 676.2H361.12V678.2"/></g>
<text x="365.52" y="683.3" font-size="9.2" text-anchor="start" fill="#181818" stroke="#181818" stroke-width="0.14">Primed</text>
<g fill="none" stroke="#8a8a8a" stroke-width="0.8"><circle cx="436.2" cy="679" r="2.1"/><path d="M436.2 681.1V684.8M434.4 682.8H438"/></g>
<text x="441.9" y="683.3" font-size="9.2" text-anchor="start" fill="#181818" stroke="#181818" stroke-width="0.14">Aged +</text>
<g fill="none" stroke="#8a8a8a" stroke-width="0.8"><circle cx="476.81" cy="681.8" r="2.1"/><path d="M478.01 680.1L479.71 676.2M478.01 676.2H479.71V678.2"/></g>
<text x="484.11" y="683.3" font-size="9.2" text-anchor="start" fill="#181818" stroke="#181818" stroke-width="0.14">Primed</text>
<text x="288.2" y="699.6" font-size="9.2" text-anchor="end" fill="#2a2a2a" stroke="#2a2a2a" stroke-width="0.14">Intromission</text>
<text x="288.2" y="711.2" font-size="9.2" text-anchor="end" fill="#2a2a2a" stroke="#2a2a2a" stroke-width="0.14">Mounting</text>
<text x="288.2" y="723" font-size="9.2" text-anchor="end" fill="#2a2a2a" stroke="#2a2a2a" stroke-width="0.14">Sniffing</text>
<text x="288.2" y="741.9" font-size="9.2" text-anchor="end" fill="#2a2a2a" stroke="#2a2a2a" stroke-width="0.14">Intromission</text>
<text x="288.2" y="753.5" font-size="9.2" text-anchor="end" fill="#2a2a2a" stroke="#2a2a2a" stroke-width="0.14">Mounting</text>
<text x="288.2" y="765.3" font-size="9.2" text-anchor="end" fill="#2a2a2a" stroke="#2a2a2a" stroke-width="0.14">Sniffing</text>
<text x="288.2" y="782.7" font-size="9.2" text-anchor="end" fill="#2a2a2a" stroke="#2a2a2a" stroke-width="0.14">Intromission</text>
<text x="288.2" y="794.3" font-size="9.2" text-anchor="end" fill="#2a2a2a" stroke="#2a2a2a" stroke-width="0.14">Mounting</text>
<text x="288.2" y="806.1" font-size="9.2" text-anchor="end" fill="#2a2a2a" stroke="#2a2a2a" stroke-width="0.14">Sniffing</text>
<rect x="299.44" y="694.6" width="1.31" height="5.6" fill="#6fb3fb" fill-opacity="0.42"/>
<rect x="301.88" y="694.6" width="0.9" height="5.6" fill="#6fb3fb" fill-opacity="0.7"/>
<rect x="304.68" y="694.6" width="0.9" height="5.6" fill="#6fb3fb" fill-opacity="0.42"/>
<rect x="307.14" y="694.6" width="0.9" height="5.6" fill="#6fb3fb" fill-opacity="0.7"/>
<rect x="308.63" y="694.6" width="0.9" height="5.6" fill="#6fb3fb" fill-opacity="0.42"/>
<rect x="309.94" y="694.6" width="0.9" height="5.6" fill="#6fb3fb" fill-opacity="0.7"/>
<rect x="312.14" y="694.6" width="1.75" height="5.6" fill="#6fb3fb" fill-opacity="1.0"/>
<rect x="316.52" y="694.6" width="3.5" height="5.6" fill="#6fb3fb" fill-opacity="0.7"/>
<rect x="321.15" y="694.6" width="0.9" height="5.6" fill="#6fb3fb" fill-opacity="0.7"/>
<rect x="325.27" y="694.6" width="2.19" height="5.6" fill="#6fb3fb" fill-opacity="1.0"/>
<rect x="330.52" y="694.6" width="0.9" height="5.6" fill="#6fb3fb" fill-opacity="1.0"/>
<rect x="333.41" y="694.6" width="0.9" height="5.6" fill="#6fb3fb" fill-opacity="1.0"/>
<rect x="336.91" y="694.6" width="0.9" height="5.6" fill="#6fb3fb" fill-opacity="1.0"/>
<rect x="338.85" y="694.6" width="1.75" height="5.6" fill="#6fb3fb" fill-opacity="0.7"/>
<rect x="341.9" y="694.6" width="0.9" height="5.6" fill="#6fb3fb" fill-opacity="0.7"/>
<rect x="344.98" y="694.6" width="2.63" height="5.6" fill="#6fb3fb" fill-opacity="1.0"/>
<rect x="298.99" y="706" width="0.9" height="5.8" fill="#6fb3fb" fill-opacity="0.7"/>
<rect x="301.18" y="706" width="0.9" height="5.8" fill="#6fb3fb" fill-opacity="0.42"/>
<rect x="304.25" y="706" width="0.9" height="5.8" fill="#6fb3fb" fill-opacity="0.42"/>
<rect x="314.14" y="706" width="0.9" height="5.8" fill="#6fb3fb" fill-opacity="0.42"/>
<rect x="315.63" y="706" width="0.9" height="5.8" fill="#6fb3fb" fill-opacity="0.42"/>
<rect x="317.82" y="706" width="0.9" height="5.8" fill="#6fb3fb" fill-opacity="0.7"/>
<rect x="330.95" y="706" width="0.9" height="5.8" fill="#6fb3fb" fill-opacity="0.22"/>
<rect x="334.9" y="706" width="0.9" height="5.8" fill="#6fb3fb" fill-opacity="1.0"/>
<rect x="338.84" y="706" width="0.9" height="5.8" fill="#6fb3fb" fill-opacity="0.7"/>
<rect x="341.02" y="706" width="0.9" height="5.8" fill="#6fb3fb" fill-opacity="0.42"/>
<rect x="343.91" y="706" width="0.9" height="5.8" fill="#6fb3fb" fill-opacity="0.7"/>
<rect x="295.5" y="717.5" width="2.63" height="5.7" fill="#6fb3fb" fill-opacity="1.0"/>
<rect x="300.32" y="717.5" width="0.9" height="5.7" fill="#6fb3fb" fill-opacity="0.7"/>
<rect x="304.25" y="717.5" width="0.9" height="5.7" fill="#6fb3fb" fill-opacity="0.7"/>
<rect x="320.01" y="717.5" width="0.9" height="5.7" fill="#6fb3fb" fill-opacity="0.42"/>
<rect x="294.5" y="694.2" width="112.7" height="29.3" fill="none" stroke="#aaa5a3" stroke-width="1.1"/>
<path d="M346.2 690.8L349.8 690.8L348 693.8Z" fill="#e8141c"/>
<rect x="298.3" y="736.9" width="5.52" height="5.6" fill="#6fb3fb" fill-opacity="1.0"/>
<rect x="306.01" y="736.9" width="0.9" height="5.6" fill="#6fb3fb" fill-opacity="1.0"/>
<rect x="307.76" y="736.9" width="3.06" height="5.6" fill="#6fb3fb" fill-opacity="1.0"/>
<rect x="312.14" y="736.9" width="4.55" height="5.6" fill="#6fb3fb" fill-opacity="1.0"/>
<rect x="319.15" y="736.9" width="1.75" height="5.6" fill="#6fb3fb" fill-opacity="1.0"/>
<rect x="323.09" y="736.9" width="1.75" height="5.6" fill="#6fb3fb" fill-opacity="1.0"/>
<rect x="327.46" y="736.9" width="1.31" height="5.6" fill="#6fb3fb" fill-opacity="1.0"/>
<rect x="330.35" y="736.9" width="1.49" height="5.6" fill="#6fb3fb" fill-opacity="1.0"/>
<rect x="333.33" y="736.9" width="2.28" height="5.6" fill="#6fb3fb" fill-opacity="0.7"/>
<rect x="297.85" y="748.3" width="0.9" height="5.8" fill="#6fb3fb" fill-opacity="0.7"/>
<rect x="304.86" y="748.3" width="0.9" height="5.8" fill="#6fb3fb" fill-opacity="0.7"/>
<rect x="311.25" y="748.3" width="0.9" height="5.8" fill="#6fb3fb" fill-opacity="0.42"/>
<rect x="318.87" y="748.3" width="0.9" height="5.8" fill="#6fb3fb" fill-opacity="0.42"/>
<rect x="327.01" y="748.3" width="0.9" height="5.8" fill="#6fb3fb" fill-opacity="0.7"/>
<rect x="330.95" y="748.3" width="0.9" height="5.8" fill="#6fb3fb" fill-opacity="0.42"/>
<rect x="294.88" y="759.8" width="0.9" height="5.7" fill="#6fb3fb" fill-opacity="1.0"/>
<rect x="296.98" y="759.8" width="0.9" height="5.7" fill="#6fb3fb" fill-opacity="0.7"/>
<rect x="303.98" y="759.8" width="0.9" height="5.7" fill="#6fb3fb" fill-opacity="0.7"/>
<rect x="317.82" y="759.8" width="0.9" height="5.7" fill="#6fb3fb" fill-opacity="0.42"/>
<rect x="321.15" y="759.8" width="0.9" height="5.7" fill="#6fb3fb" fill-opacity="0.42"/>
<rect x="324.82" y="759.8" width="0.9" height="5.7" fill="#6fb3fb" fill-opacity="0.7"/>
<rect x="328.77" y="759.8" width="0.9" height="5.7" fill="#6fb3fb" fill-opacity="0.7"/>
<rect x="294.5" y="736.5" width="112.7" height="29.3" fill="none" stroke="#aaa5a3" stroke-width="1.1"/>
<path d="M333.8 733.1L337.4 733.1L335.6 736.1Z" fill="#e8141c"/>
<rect x="303.11" y="777.7" width="0.9" height="5.6" fill="#6fb3fb" fill-opacity="0.7"/>
<rect x="308.64" y="777.7" width="1.75" height="5.6" fill="#6fb3fb" fill-opacity="0.7"/>
<rect x="312.57" y="777.7" width="0.9" height="5.6" fill="#6fb3fb" fill-opacity="0.7"/>
<rect x="315.2" y="777.7" width="3.5" height="5.6" fill="#6fb3fb" fill-opacity="1.0"/>
<rect x="320.01" y="777.7" width="0.9" height="5.6" fill="#6fb3fb" fill-opacity="0.42"/>
<rect x="321.76" y="777.7" width="0.9" height="5.6" fill="#6fb3fb" fill-opacity="0.7"/>
<rect x="323.96" y="777.7" width="1.75" height="5.6" fill="#6fb3fb" fill-opacity="1.0"/>
<rect x="299.87" y="789.1" width="0.9" height="5.8" fill="#6fb3fb" fill-opacity="0.42"/>
<rect x="302.93" y="789.1" width="0.9" height="5.8" fill="#6fb3fb" fill-opacity="0.22"/>
<rect x="308.01" y="789.1" width="0.9" height="5.8" fill="#6fb3fb" fill-opacity="0.7"/>
<rect x="311.26" y="789.1" width="1.05" height="5.8" fill="#6fb3fb" fill-opacity="0.42"/>
<rect x="313.88" y="789.1" width="0.9" height="5.8" fill="#6fb3fb" fill-opacity="0.42"/>
<rect x="320.2" y="789.1" width="1.4" height="5.8" fill="#6fb3fb" fill-opacity="0.7"/>
<rect x="296.38" y="800.6" width="2.19" height="5.7" fill="#6fb3fb" fill-opacity="1.0"/>
<rect x="319.13" y="800.6" width="0.9" height="5.7" fill="#6fb3fb" fill-opacity="0.7"/>
<rect x="294.5" y="777.3" width="112.7" height="29.3" fill="none" stroke="#aaa5a3" stroke-width="1.1"/>
<path d="M323.7 773.9L327.3 773.9L325.5 776.9Z" fill="#e8141c"/>
<rect x="424.88" y="694.6" width="0.9" height="5.6" fill="#6fb3fb" fill-opacity="0.7"/>
<rect x="429" y="694.6" width="0.9" height="5.6" fill="#6fb3fb" fill-opacity="1.0"/>
<rect x="430.76" y="694.6" width="2.19" height="5.6" fill="#6fb3fb" fill-opacity="1.0"/>
<rect x="436.02" y="694.6" width="2.19" height="5.6" fill="#6fb3fb" fill-opacity="1.0"/>
<rect x="441.87" y="694.6" width="0.9" height="5.6" fill="#6fb3fb" fill-opacity="1.0"/>
<rect x="444.33" y="694.6" width="2.19" height="5.6" fill="#6fb3fb" fill-opacity="1.0"/>
<rect x="450.89" y="694.6" width="0.9" height="5.6" fill="#6fb3fb" fill-opacity="0.7"/>
<rect x="454.4" y="694.6" width="1.05" height="5.6" fill="#6fb3fb" fill-opacity="1.0"/>
<rect x="457.46" y="694.6" width="0.9" height="5.6" fill="#6fb3fb" fill-opacity="0.7"/>
<rect x="459.91" y="694.6" width="0.9" height="5.6" fill="#6fb3fb" fill-opacity="0.7"/>
<rect x="425.51" y="706" width="3.06" height="5.8" fill="#6fb3fb" fill-opacity="0.42"/>
<rect x="430.14" y="706" width="0.9" height="5.8" fill="#6fb3fb" fill-opacity="0.7"/>
<rect x="435.13" y="706" width="0.9" height="5.8" fill="#6fb3fb" fill-opacity="0.7"/>
<rect x="440.39" y="706" width="0.9" height="5.8" fill="#6fb3fb" fill-opacity="0.42"/>
<rect x="443.88" y="706" width="0.9" height="5.8" fill="#6fb3fb" fill-opacity="0.42"/>
<rect x="450.46" y="706" width="0.9" height="5.8" fill="#6fb3fb" fill-opacity="0.7"/>
<rect x="453.95" y="706" width="0.9" height="5.8" fill="#6fb3fb" fill-opacity="0.7"/>
<rect x="457.02" y="706" width="0.9" height="5.8" fill="#6fb3fb" fill-opacity="0.7"/>
<rect x="459.91" y="706" width="0.9" height="5.8" fill="#6fb3fb" fill-opacity="0.42"/>
<rect x="421.99" y="717.5" width="0.9" height="5.7" fill="#6fb3fb" fill-opacity="0.7"/>
<rect x="423.74" y="717.5" width="0.9" height="5.7" fill="#6fb3fb" fill-opacity="0.7"/>
<rect x="425.51" y="717.5" width="5.25" height="5.7" fill="#6fb3fb" fill-opacity="0.42"/>
<rect x="435.13" y="717.5" width="0.9" height="5.7" fill="#6fb3fb" fill-opacity="0.7"/>
<rect x="440.39" y="717.5" width="0.9" height="5.7" fill="#6fb3fb" fill-opacity="0.42"/>
<rect x="443.88" y="717.5" width="0.9" height="5.7" fill="#6fb3fb" fill-opacity="0.7"/>
<rect x="450.46" y="717.5" width="0.9" height="5.7" fill="#6fb3fb" fill-opacity="0.42"/>
<rect x="453.95" y="717.5" width="0.9" height="5.7" fill="#6fb3fb" fill-opacity="0.7"/>
<rect x="459.91" y="717.5" width="0.9" height="5.7" fill="#6fb3fb" fill-opacity="0.22"/>
<rect x="418" y="694.2" width="113" height="29.3" fill="none" stroke="#aaa5a3" stroke-width="1.1"/>
<path d="M458.7 690.8L462.3 690.8L460.5 693.8Z" fill="#e8141c"/>
<rect x="427.26" y="736.9" width="2.63" height="5.6" fill="#6fb3fb" fill-opacity="0.7"/>
<rect x="433.39" y="736.9" width="2.63" height="5.6" fill="#6fb3fb" fill-opacity="1.0"/>
<rect x="436.89" y="736.9" width="2.19" height="5.6" fill="#6fb3fb" fill-opacity="1.0"/>
<rect x="439.94" y="736.9" width="0.9" height="5.6" fill="#6fb3fb" fill-opacity="1.0"/>
<rect x="442.13" y="736.9" width="0.9" height="5.6" fill="#6fb3fb" fill-opacity="0.7"/>
<rect x="446.52" y="736.9" width="4.38" height="5.6" fill="#6fb3fb" fill-opacity="0.7"/>
<rect x="452.2" y="736.9" width="0.9" height="5.6" fill="#6fb3fb" fill-opacity="1.0"/>
<rect x="424.88" y="748.3" width="0.9" height="5.8" fill="#6fb3fb" fill-opacity="0.7"/>
<rect x="427.86" y="748.3" width="0.9" height="5.8" fill="#6fb3fb" fill-opacity="1.0"/>
<rect x="431.2" y="748.3" width="3.5" height="5.8" fill="#6fb3fb" fill-opacity="0.42"/>
<rect x="436.44" y="748.3" width="0.9" height="5.8" fill="#6fb3fb" fill-opacity="0.22"/>
<rect x="439.52" y="748.3" width="3.5" height="5.8" fill="#6fb3fb" fill-opacity="0.42"/>
<rect x="443.88" y="748.3" width="0.9" height="5.8" fill="#6fb3fb" fill-opacity="1.0"/>
<rect x="446.52" y="748.3" width="2.19" height="5.8" fill="#6fb3fb" fill-opacity="0.42"/>
<rect x="451.15" y="748.3" width="0.9" height="5.8" fill="#6fb3fb" fill-opacity="0.7"/>
<rect x="421.12" y="759.8" width="0.9" height="5.7" fill="#6fb3fb" fill-opacity="0.42"/>
<rect x="423.76" y="759.8" width="1.31" height="5.7" fill="#6fb3fb" fill-opacity="1.0"/>
<rect x="427.68" y="759.8" width="0.9" height="5.7" fill="#6fb3fb" fill-opacity="0.7"/>
<rect x="429.87" y="759.8" width="0.9" height="5.7" fill="#6fb3fb" fill-opacity="0.42"/>
<rect x="432.5" y="759.8" width="0.9" height="5.7" fill="#6fb3fb" fill-opacity="0.7"/>
<rect x="443.88" y="759.8" width="0.9" height="5.7" fill="#6fb3fb" fill-opacity="0.42"/>
<rect x="446.52" y="759.8" width="2.19" height="5.7" fill="#6fb3fb" fill-opacity="0.42"/>
<rect x="451.77" y="759.8" width="0.9" height="5.7" fill="#6fb3fb" fill-opacity="0.22"/>
<rect x="418" y="736.5" width="113" height="29.3" fill="none" stroke="#aaa5a3" stroke-width="1.1"/>
<path d="M451.6 733.1L455.2 733.1L453.4 736.1Z" fill="#e8141c"/>
<rect x="425.95" y="777.7" width="2.63" height="5.6" fill="#6fb3fb" fill-opacity="0.7"/>
<rect x="430.32" y="777.7" width="2.63" height="5.6" fill="#6fb3fb" fill-opacity="1.0"/>
<rect x="434.26" y="777.7" width="2.19" height="5.6" fill="#6fb3fb" fill-opacity="0.7"/>
<rect x="437.75" y="777.7" width="0.9" height="5.6" fill="#6fb3fb" fill-opacity="1.0"/>
<rect x="445.2" y="777.7" width="0.9" height="5.6" fill="#6fb3fb" fill-opacity="0.7"/>
<rect x="446.51" y="777.7" width="0.9" height="5.6" fill="#6fb3fb" fill-opacity="0.42"/>
<rect x="425.06" y="789.1" width="0.9" height="5.8" fill="#6fb3fb" fill-opacity="0.22"/>
<rect x="426.98" y="789.1" width="0.9" height="5.8" fill="#6fb3fb" fill-opacity="0.7"/>
<rect x="429.87" y="789.1" width="0.9" height="5.8" fill="#6fb3fb" fill-opacity="0.22"/>
<rect x="434.26" y="789.1" width="1.31" height="5.8" fill="#6fb3fb" fill-opacity="0.42"/>
<rect x="437.14" y="789.1" width="0.9" height="5.8" fill="#6fb3fb" fill-opacity="0.7"/>
<rect x="440.39" y="789.1" width="3.5" height="5.8" fill="#6fb3fb" fill-opacity="1.0"/>
<rect x="445.64" y="789.1" width="0.9" height="5.8" fill="#6fb3fb" fill-opacity="0.22"/>
<rect x="421.99" y="800.6" width="0.9" height="5.7" fill="#6fb3fb" fill-opacity="0.7"/>
<rect x="424.19" y="800.6" width="1.49" height="5.7" fill="#6fb3fb" fill-opacity="1.0"/>
<rect x="427.25" y="800.6" width="0.9" height="5.7" fill="#6fb3fb" fill-opacity="0.42"/>
<rect x="433.39" y="800.6" width="2.19" height="5.7" fill="#6fb3fb" fill-opacity="0.42"/>
<rect x="437.14" y="800.6" width="0.9" height="5.7" fill="#6fb3fb" fill-opacity="0.42"/>
<rect x="439.94" y="800.6" width="0.9" height="5.7" fill="#6fb3fb" fill-opacity="0.42"/>
<rect x="444.15" y="800.6" width="0.9" height="5.7" fill="#6fb3fb" fill-opacity="0.7"/>
<rect x="418" y="777.3" width="113" height="29.3" fill="none" stroke="#aaa5a3" stroke-width="1.1"/>
<path d="M445.6 773.9L449.2 773.9L447.4 776.9Z" fill="#e8141c"/>
<text x="294.2" y="818.9" font-size="9.2" text-anchor="middle" fill="#181818" stroke="#181818" stroke-width="0.14">0</text>
<text x="351.7" y="818.9" font-size="9.2" text-anchor="middle" fill="#181818" stroke="#181818" stroke-width="0.14">Time (min)</text>
<text x="405.6" y="818.9" font-size="9.2" text-anchor="middle" fill="#181818" stroke="#181818" stroke-width="0.14">30</text>
<text x="418.2" y="818.9" font-size="9.2" text-anchor="middle" fill="#181818" stroke="#181818" stroke-width="0.14">0</text>
<text x="474.8" y="818.9" font-size="9.2" text-anchor="middle" fill="#181818" stroke="#181818" stroke-width="0.14">Time (min)</text>
<text x="529" y="818.9" font-size="9.2" text-anchor="middle" fill="#181818" stroke="#181818" stroke-width="0.14">30</text>
<path d="M292.9 829.1L297.4 829.1L295.15 832.7Z" fill="#e8141c"/>
<text x="303.6" y="834.2" font-size="9.2" text-anchor="start" fill="#181818" stroke="#181818" stroke-width="0.14">Ejaculation</text>
</svg>
</body></html>
